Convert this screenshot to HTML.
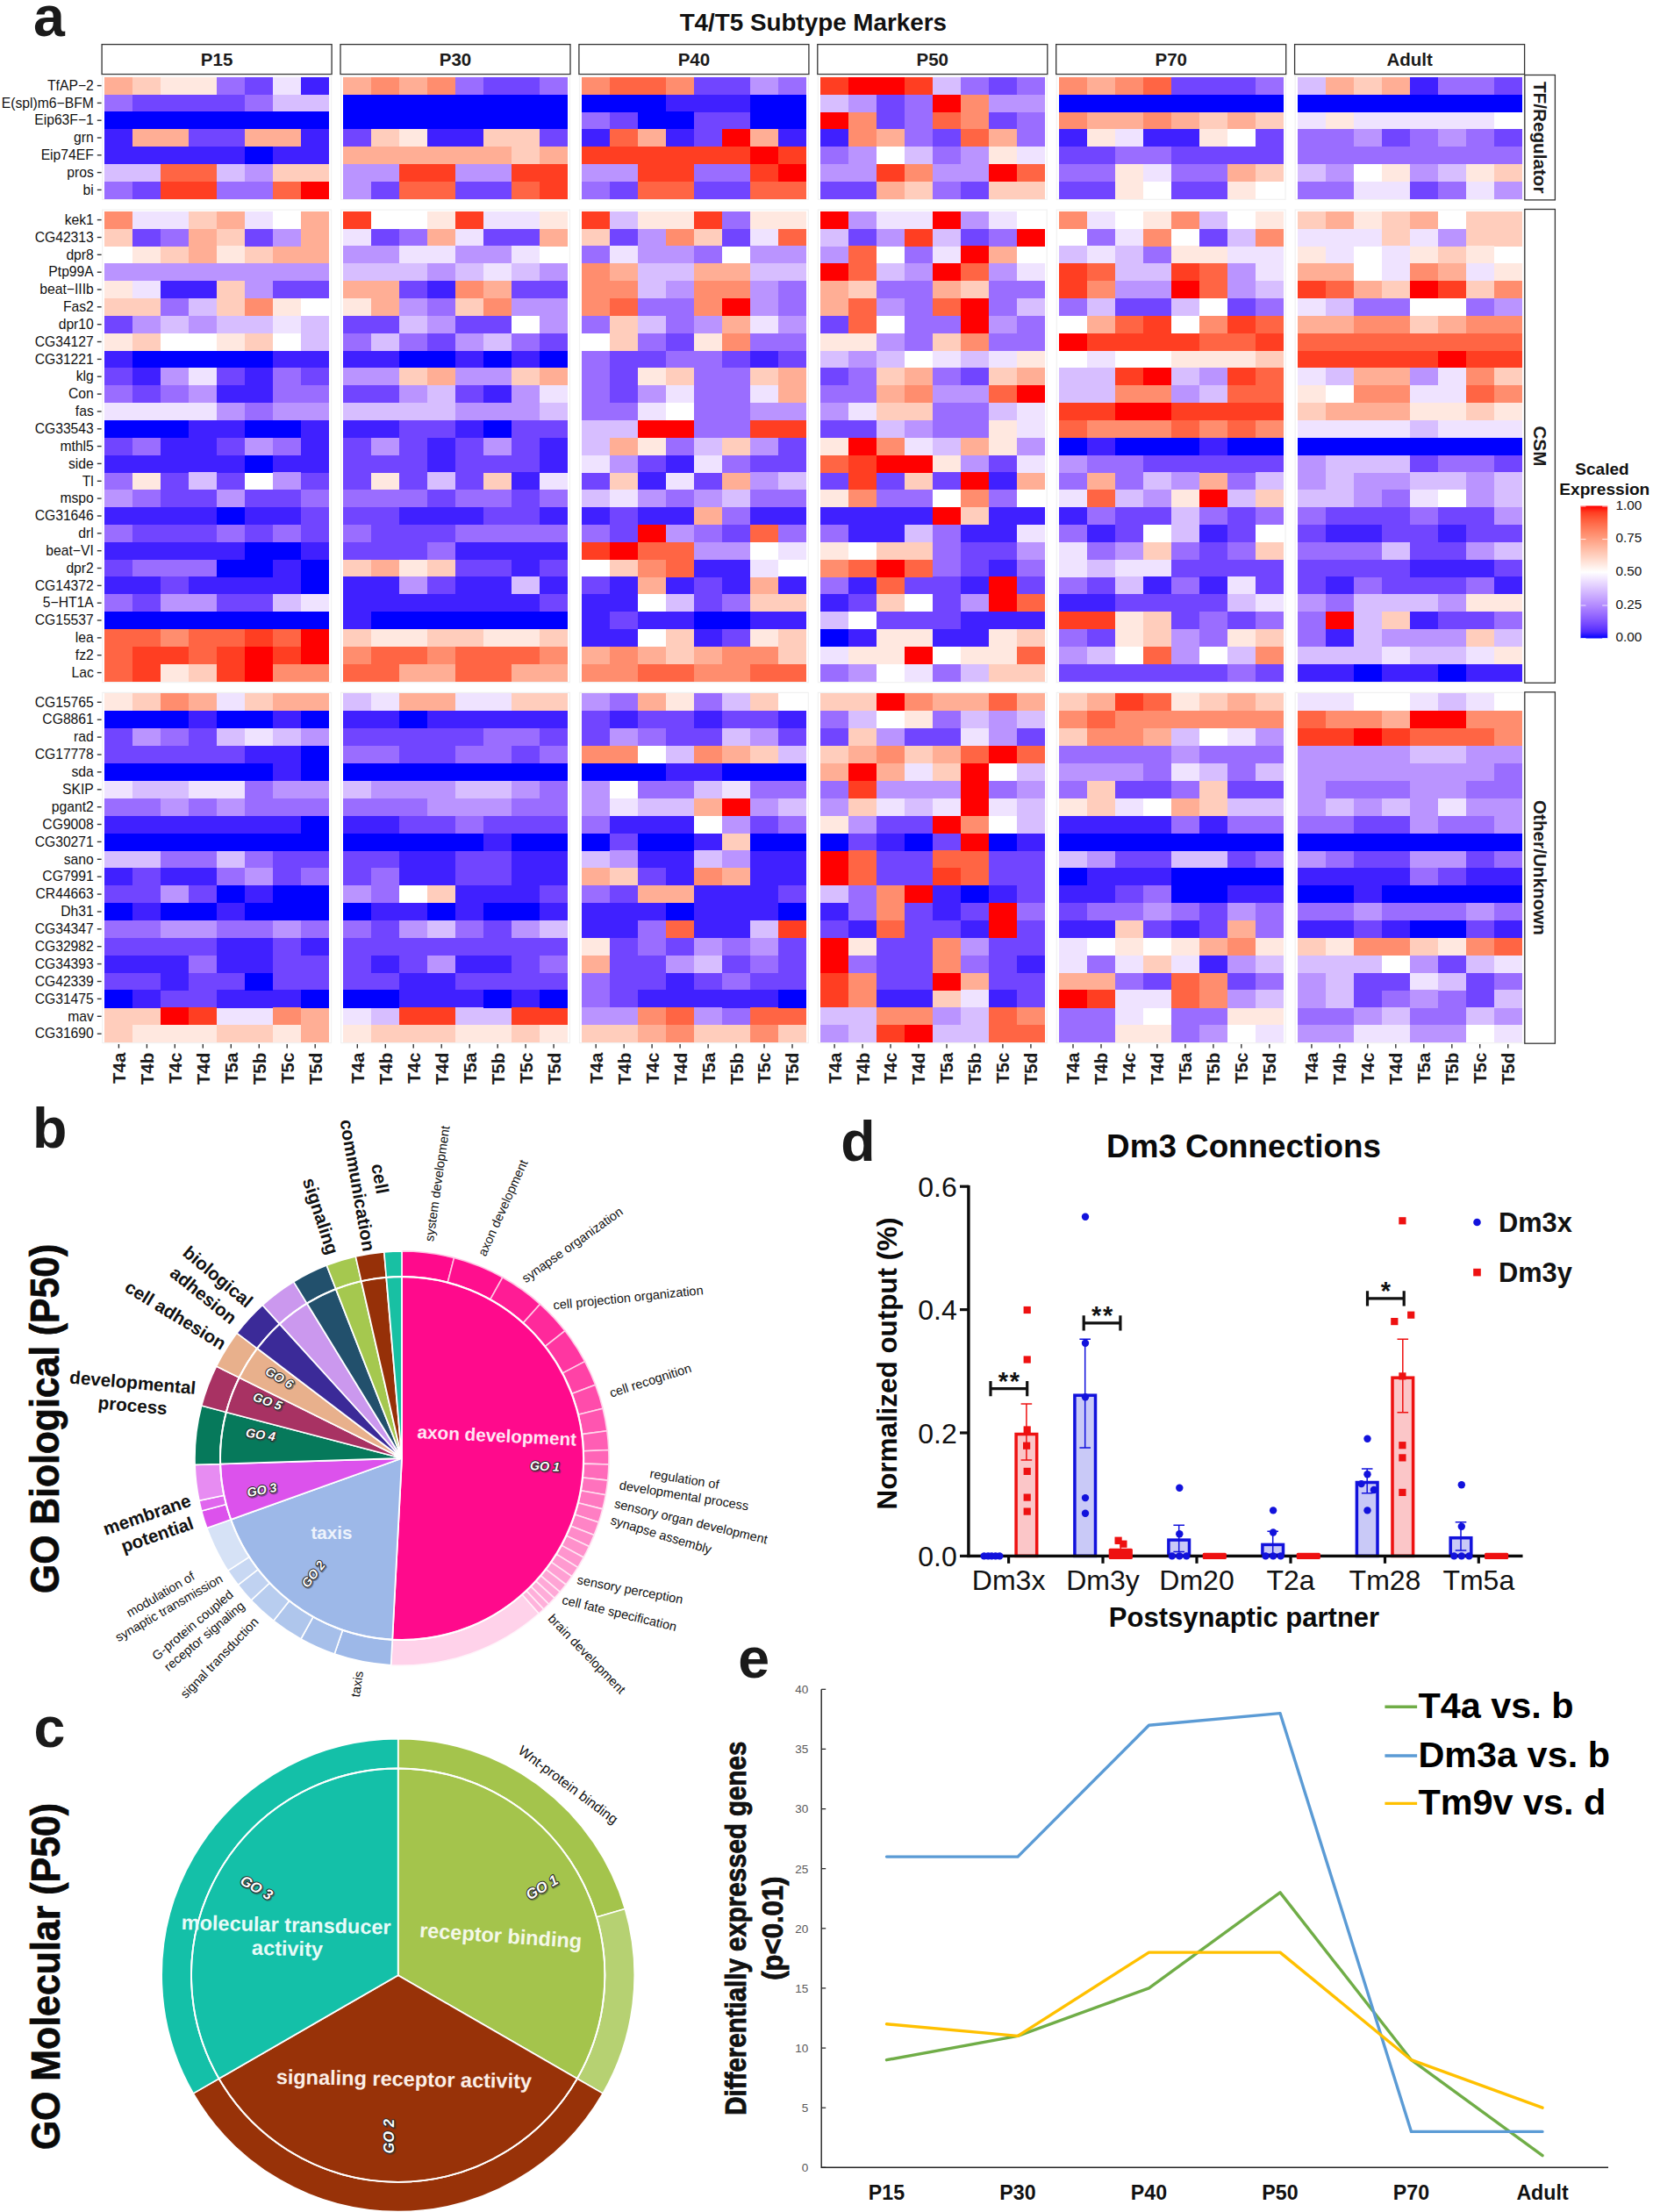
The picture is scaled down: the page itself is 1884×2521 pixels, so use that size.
<!DOCTYPE html>
<html><head><meta charset="utf-8"><title>Figure</title>
<style>
html,body{margin:0;padding:0;background:#fff;}
svg{display:block;font-family:'Liberation Sans', Arial, Helvetica, sans-serif;}
</style></head><body>
<svg width="1884" height="2521" viewBox="0 0 1884 2521" font-family="'Liberation Sans', Arial, Helvetica, sans-serif">
<rect width="1884" height="2521" fill="#fff"/>
<text x="926.8" y="34.6" font-size="27.8" font-weight="bold" text-anchor="middle" fill="#111">T4/T5 Subtype Markers</text>
<rect x="116.1" y="50.6" width="262.0" height="34.0" fill="#fff" stroke="#333" stroke-width="1.3"/>
<text x="247.1" y="75.2" font-size="20.5" font-weight="bold" text-anchor="middle" fill="#1a1a1a">P15</text>
<rect x="388.0" y="50.6" width="262.0" height="34.0" fill="#fff" stroke="#333" stroke-width="1.3"/>
<text x="519.0" y="75.2" font-size="20.5" font-weight="bold" text-anchor="middle" fill="#1a1a1a">P30</text>
<rect x="659.9" y="50.6" width="262.0" height="34.0" fill="#fff" stroke="#333" stroke-width="1.3"/>
<text x="790.9" y="75.2" font-size="20.5" font-weight="bold" text-anchor="middle" fill="#1a1a1a">P40</text>
<rect x="931.8" y="50.6" width="262.0" height="34.0" fill="#fff" stroke="#333" stroke-width="1.3"/>
<text x="1062.8" y="75.2" font-size="20.5" font-weight="bold" text-anchor="middle" fill="#1a1a1a">P50</text>
<rect x="1203.7" y="50.6" width="262.0" height="34.0" fill="#fff" stroke="#333" stroke-width="1.3"/>
<text x="1334.7" y="75.2" font-size="20.5" font-weight="bold" text-anchor="middle" fill="#1a1a1a">P70</text>
<rect x="1475.6" y="50.6" width="262.0" height="34.0" fill="#fff" stroke="#333" stroke-width="1.3"/>
<text x="1606.6" y="75.2" font-size="20.5" font-weight="bold" text-anchor="middle" fill="#1a1a1a">Adult</text>
<rect x="116.7" y="86.1" width="260.8" height="141.2" fill="#fff" stroke="#f1f1f1" stroke-width="1.2"/>
<rect x="388.6" y="86.1" width="260.8" height="141.2" fill="#fff" stroke="#f1f1f1" stroke-width="1.2"/>
<rect x="660.5" y="86.1" width="260.8" height="141.2" fill="#fff" stroke="#f1f1f1" stroke-width="1.2"/>
<rect x="932.4" y="86.1" width="260.8" height="141.2" fill="#fff" stroke="#f1f1f1" stroke-width="1.2"/>
<rect x="1204.3" y="86.1" width="260.8" height="141.2" fill="#fff" stroke="#f1f1f1" stroke-width="1.2"/>
<rect x="1476.2" y="86.1" width="260.8" height="141.2" fill="#fff" stroke="#f1f1f1" stroke-width="1.2"/>
<text x="106.8" y="102.8" font-size="15.7" text-anchor="end" fill="#111">TfAP−2</text>
<rect x="110.8" y="96.9" width="4.8" height="1.4" fill="#333"/>
<text x="106.8" y="122.6" font-size="15.7" text-anchor="end" fill="#111">E(spl)m6−BFM</text>
<rect x="110.8" y="116.7" width="4.8" height="1.4" fill="#333"/>
<text x="106.8" y="142.4" font-size="15.7" text-anchor="end" fill="#111">Eip63F−1</text>
<rect x="110.8" y="136.5" width="4.8" height="1.4" fill="#333"/>
<text x="106.8" y="162.2" font-size="15.7" text-anchor="end" fill="#111">grn</text>
<rect x="110.8" y="156.3" width="4.8" height="1.4" fill="#333"/>
<text x="106.8" y="182.0" font-size="15.7" text-anchor="end" fill="#111">Eip74EF</text>
<rect x="110.8" y="176.1" width="4.8" height="1.4" fill="#333"/>
<text x="106.8" y="201.8" font-size="15.7" text-anchor="end" fill="#111">pros</text>
<rect x="110.8" y="195.9" width="4.8" height="1.4" fill="#333"/>
<text x="106.8" y="221.6" font-size="15.7" text-anchor="end" fill="#111">bi</text>
<rect x="110.8" y="215.7" width="4.8" height="1.4" fill="#333"/>
<rect x="1737.8" y="85.5" width="34.6" height="142.4" fill="#fff" stroke="#333" stroke-width="1.3"/>
<text transform="translate(1748.0,156.7) rotate(90.0)" font-size="20.7" font-weight="bold" text-anchor="middle" fill="#1a1a1a">TF/Regulator</text>
<rect x="116.7" y="239.1" width="260.8" height="538.6" fill="#fff" stroke="#f1f1f1" stroke-width="1.2"/>
<rect x="388.6" y="239.1" width="260.8" height="538.6" fill="#fff" stroke="#f1f1f1" stroke-width="1.2"/>
<rect x="660.5" y="239.1" width="260.8" height="538.6" fill="#fff" stroke="#f1f1f1" stroke-width="1.2"/>
<rect x="932.4" y="239.1" width="260.8" height="538.6" fill="#fff" stroke="#f1f1f1" stroke-width="1.2"/>
<rect x="1204.3" y="239.1" width="260.8" height="538.6" fill="#fff" stroke="#f1f1f1" stroke-width="1.2"/>
<rect x="1476.2" y="239.1" width="260.8" height="538.6" fill="#fff" stroke="#f1f1f1" stroke-width="1.2"/>
<text x="106.8" y="255.8" font-size="15.7" text-anchor="end" fill="#111">kek1</text>
<rect x="110.8" y="249.9" width="4.8" height="1.4" fill="#333"/>
<text x="106.8" y="275.7" font-size="15.7" text-anchor="end" fill="#111">CG42313</text>
<rect x="110.8" y="269.8" width="4.8" height="1.4" fill="#333"/>
<text x="106.8" y="295.5" font-size="15.7" text-anchor="end" fill="#111">dpr8</text>
<rect x="110.8" y="289.6" width="4.8" height="1.4" fill="#333"/>
<text x="106.8" y="315.4" font-size="15.7" text-anchor="end" fill="#111">Ptp99A</text>
<rect x="110.8" y="309.5" width="4.8" height="1.4" fill="#333"/>
<text x="106.8" y="335.2" font-size="15.7" text-anchor="end" fill="#111">beat−IIIb</text>
<rect x="110.8" y="329.3" width="4.8" height="1.4" fill="#333"/>
<text x="106.8" y="355.0" font-size="15.7" text-anchor="end" fill="#111">Fas2</text>
<rect x="110.8" y="349.1" width="4.8" height="1.4" fill="#333"/>
<text x="106.8" y="374.9" font-size="15.7" text-anchor="end" fill="#111">dpr10</text>
<rect x="110.8" y="369.0" width="4.8" height="1.4" fill="#333"/>
<text x="106.8" y="394.7" font-size="15.7" text-anchor="end" fill="#111">CG34127</text>
<rect x="110.8" y="388.8" width="4.8" height="1.4" fill="#333"/>
<text x="106.8" y="414.6" font-size="15.7" text-anchor="end" fill="#111">CG31221</text>
<rect x="110.8" y="408.7" width="4.8" height="1.4" fill="#333"/>
<text x="106.8" y="434.4" font-size="15.7" text-anchor="end" fill="#111">klg</text>
<rect x="110.8" y="428.5" width="4.8" height="1.4" fill="#333"/>
<text x="106.8" y="454.3" font-size="15.7" text-anchor="end" fill="#111">Con</text>
<rect x="110.8" y="448.4" width="4.8" height="1.4" fill="#333"/>
<text x="106.8" y="474.1" font-size="15.7" text-anchor="end" fill="#111">fas</text>
<rect x="110.8" y="468.2" width="4.8" height="1.4" fill="#333"/>
<text x="106.8" y="494.0" font-size="15.7" text-anchor="end" fill="#111">CG33543</text>
<rect x="110.8" y="488.1" width="4.8" height="1.4" fill="#333"/>
<text x="106.8" y="513.8" font-size="15.7" text-anchor="end" fill="#111">mthl5</text>
<rect x="110.8" y="507.9" width="4.8" height="1.4" fill="#333"/>
<text x="106.8" y="533.6" font-size="15.7" text-anchor="end" fill="#111">side</text>
<rect x="110.8" y="527.7" width="4.8" height="1.4" fill="#333"/>
<text x="106.8" y="553.5" font-size="15.7" text-anchor="end" fill="#111">Tl</text>
<rect x="110.8" y="547.6" width="4.8" height="1.4" fill="#333"/>
<text x="106.8" y="573.3" font-size="15.7" text-anchor="end" fill="#111">mspo</text>
<rect x="110.8" y="567.4" width="4.8" height="1.4" fill="#333"/>
<text x="106.8" y="593.2" font-size="15.7" text-anchor="end" fill="#111">CG31646</text>
<rect x="110.8" y="587.3" width="4.8" height="1.4" fill="#333"/>
<text x="106.8" y="613.0" font-size="15.7" text-anchor="end" fill="#111">drl</text>
<rect x="110.8" y="607.1" width="4.8" height="1.4" fill="#333"/>
<text x="106.8" y="632.9" font-size="15.7" text-anchor="end" fill="#111">beat−VI</text>
<rect x="110.8" y="627.0" width="4.8" height="1.4" fill="#333"/>
<text x="106.8" y="652.7" font-size="15.7" text-anchor="end" fill="#111">dpr2</text>
<rect x="110.8" y="646.8" width="4.8" height="1.4" fill="#333"/>
<text x="106.8" y="672.6" font-size="15.7" text-anchor="end" fill="#111">CG14372</text>
<rect x="110.8" y="666.7" width="4.8" height="1.4" fill="#333"/>
<text x="106.8" y="692.4" font-size="15.7" text-anchor="end" fill="#111">5−HT1A</text>
<rect x="110.8" y="686.5" width="4.8" height="1.4" fill="#333"/>
<text x="106.8" y="712.2" font-size="15.7" text-anchor="end" fill="#111">CG15537</text>
<rect x="110.8" y="706.3" width="4.8" height="1.4" fill="#333"/>
<text x="106.8" y="732.1" font-size="15.7" text-anchor="end" fill="#111">lea</text>
<rect x="110.8" y="726.2" width="4.8" height="1.4" fill="#333"/>
<text x="106.8" y="751.9" font-size="15.7" text-anchor="end" fill="#111">fz2</text>
<rect x="110.8" y="746.0" width="4.8" height="1.4" fill="#333"/>
<text x="106.8" y="771.8" font-size="15.7" text-anchor="end" fill="#111">Lac</text>
<rect x="110.8" y="765.9" width="4.8" height="1.4" fill="#333"/>
<rect x="1737.8" y="238.5" width="34.6" height="539.8" fill="#fff" stroke="#333" stroke-width="1.3"/>
<text transform="translate(1748.0,508.4) rotate(90.0)" font-size="20.7" font-weight="bold" text-anchor="middle" fill="#1a1a1a">CSM</text>
<rect x="116.7" y="789.4" width="260.8" height="399.2" fill="#fff" stroke="#f1f1f1" stroke-width="1.2"/>
<rect x="388.6" y="789.4" width="260.8" height="399.2" fill="#fff" stroke="#f1f1f1" stroke-width="1.2"/>
<rect x="660.5" y="789.4" width="260.8" height="399.2" fill="#fff" stroke="#f1f1f1" stroke-width="1.2"/>
<rect x="932.4" y="789.4" width="260.8" height="399.2" fill="#fff" stroke="#f1f1f1" stroke-width="1.2"/>
<rect x="1204.3" y="789.4" width="260.8" height="399.2" fill="#fff" stroke="#f1f1f1" stroke-width="1.2"/>
<rect x="1476.2" y="789.4" width="260.8" height="399.2" fill="#fff" stroke="#f1f1f1" stroke-width="1.2"/>
<text x="106.8" y="805.5" font-size="15.7" text-anchor="end" fill="#111">CG15765</text>
<rect x="110.8" y="799.6" width="4.8" height="1.4" fill="#333"/>
<text x="106.8" y="825.4" font-size="15.7" text-anchor="end" fill="#111">CG8861</text>
<rect x="110.8" y="819.5" width="4.8" height="1.4" fill="#333"/>
<text x="106.8" y="845.3" font-size="15.7" text-anchor="end" fill="#111">rad</text>
<rect x="110.8" y="839.4" width="4.8" height="1.4" fill="#333"/>
<text x="106.8" y="865.2" font-size="15.7" text-anchor="end" fill="#111">CG17778</text>
<rect x="110.8" y="859.3" width="4.8" height="1.4" fill="#333"/>
<text x="106.8" y="885.1" font-size="15.7" text-anchor="end" fill="#111">sda</text>
<rect x="110.8" y="879.2" width="4.8" height="1.4" fill="#333"/>
<text x="106.8" y="905.0" font-size="15.7" text-anchor="end" fill="#111">SKIP</text>
<rect x="110.8" y="899.1" width="4.8" height="1.4" fill="#333"/>
<text x="106.8" y="924.9" font-size="15.7" text-anchor="end" fill="#111">pgant2</text>
<rect x="110.8" y="919.0" width="4.8" height="1.4" fill="#333"/>
<text x="106.8" y="944.7" font-size="15.7" text-anchor="end" fill="#111">CG9008</text>
<rect x="110.8" y="938.8" width="4.8" height="1.4" fill="#333"/>
<text x="106.8" y="964.6" font-size="15.7" text-anchor="end" fill="#111">CG30271</text>
<rect x="110.8" y="958.7" width="4.8" height="1.4" fill="#333"/>
<text x="106.8" y="984.5" font-size="15.7" text-anchor="end" fill="#111">sano</text>
<rect x="110.8" y="978.6" width="4.8" height="1.4" fill="#333"/>
<text x="106.8" y="1004.4" font-size="15.7" text-anchor="end" fill="#111">CG7991</text>
<rect x="110.8" y="998.5" width="4.8" height="1.4" fill="#333"/>
<text x="106.8" y="1024.3" font-size="15.7" text-anchor="end" fill="#111">CR44663</text>
<rect x="110.8" y="1018.4" width="4.8" height="1.4" fill="#333"/>
<text x="106.8" y="1044.2" font-size="15.7" text-anchor="end" fill="#111">Dh31</text>
<rect x="110.8" y="1038.3" width="4.8" height="1.4" fill="#333"/>
<text x="106.8" y="1064.0" font-size="15.7" text-anchor="end" fill="#111">CG34347</text>
<rect x="110.8" y="1058.1" width="4.8" height="1.4" fill="#333"/>
<text x="106.8" y="1083.9" font-size="15.7" text-anchor="end" fill="#111">CG32982</text>
<rect x="110.8" y="1078.0" width="4.8" height="1.4" fill="#333"/>
<text x="106.8" y="1103.8" font-size="15.7" text-anchor="end" fill="#111">CG34393</text>
<rect x="110.8" y="1097.9" width="4.8" height="1.4" fill="#333"/>
<text x="106.8" y="1123.7" font-size="15.7" text-anchor="end" fill="#111">CG42339</text>
<rect x="110.8" y="1117.8" width="4.8" height="1.4" fill="#333"/>
<text x="106.8" y="1143.6" font-size="15.7" text-anchor="end" fill="#111">CG31475</text>
<rect x="110.8" y="1137.7" width="4.8" height="1.4" fill="#333"/>
<text x="106.8" y="1163.5" font-size="15.7" text-anchor="end" fill="#111">mav</text>
<rect x="110.8" y="1157.6" width="4.8" height="1.4" fill="#333"/>
<text x="106.8" y="1183.4" font-size="15.7" text-anchor="end" fill="#111">CG31690</text>
<rect x="110.8" y="1177.5" width="4.8" height="1.4" fill="#333"/>
<rect x="1737.8" y="788.8" width="34.6" height="400.4" fill="#fff" stroke="#333" stroke-width="1.3"/>
<text transform="translate(1748.0,989.0) rotate(90.0)" font-size="20.7" font-weight="bold" text-anchor="middle" fill="#1a1a1a">Other/Unknown</text>
<path fill="#ffae95" shape-rendering="crispEdges" d="M119.4 87.7H151.4V107.7H119.4zM391.3 87.7H423.3V107.7H391.3zM455.2 87.7H487.2V107.7H455.2zM1239.0 87.7H1270.9V107.7H1239.0zM1510.9 87.7H1542.8V107.7H1510.9zM1574.8 87.7H1606.8V107.7H1574.8zM1239.0 127.3H1302.9V147.3H1239.0zM1334.9 127.3H1366.9V147.3H1334.9zM1398.8 127.3H1430.8V147.3H1398.8zM151.4 147.1H215.3V167.1H151.4zM279.3 147.1H343.2V167.1H279.3zM727.1 147.1H759.1V167.1H727.1zM855.0 147.1H887.0V167.1H855.0zM999.0 147.1H1031.0V167.1H999.0zM1126.9 147.1H1158.9V167.1H1126.9zM391.3 166.9H583.2V186.9H391.3zM615.1 166.9H647.1V186.9H615.1zM1398.8 186.7H1430.8V206.7H1398.8zM999.0 206.5H1031.0V226.5H999.0zM247.3 240.7H279.3V260.7H247.3zM343.2 240.7H375.2V260.7H343.2zM1510.9 240.7H1542.8V260.7H1510.9zM1606.8 240.7H1638.8V260.7H1606.8zM215.3 260.5H247.3V280.5H215.3zM343.2 260.5H375.2V280.5H343.2zM487.2 260.5H519.2V280.5H487.2zM615.1 260.5H647.1V280.5H615.1zM215.3 280.4H247.3V300.4H215.3zM311.2 280.4H375.2V300.4H311.2zM1126.9 280.4H1158.9V300.4H1126.9zM695.2 300.2H727.1V320.2H695.2zM791.1 300.2H855.0V320.2H791.1zM1478.9 300.2H1542.8V320.2H1478.9zM1638.8 300.2H1670.8V320.2H1638.8zM391.3 320.1H455.2V340.1H391.3zM551.2 320.1H583.2V340.1H551.2zM935.1 320.1H967.1V340.1H935.1zM1063.0 320.1H1095.0V340.1H1063.0zM1542.8 320.1H1574.8V340.1H1542.8zM423.3 339.9H455.2V359.9H423.3zM935.1 339.9H967.1V359.9H935.1zM823.1 359.8H855.0V379.8H823.1zM1239.0 359.8H1270.9V379.8H1239.0zM1478.9 359.8H1542.8V379.8H1478.9zM1638.8 359.8H1670.8V379.8H1638.8zM487.2 419.3H519.2V439.3H487.2zM615.1 419.3H647.1V439.3H615.1zM887.0 419.3H919.0V439.3H887.0zM1031.0 419.3H1063.0V439.3H1031.0zM1158.9 419.3H1190.9V439.3H1158.9zM1542.8 419.3H1606.8V439.3H1542.8zM887.0 439.1H919.0V459.1H887.0zM999.0 439.1H1031.0V459.1H999.0zM1510.9 459.0H1606.8V479.0H1510.9zM695.2 498.7H727.1V518.7H695.2zM1095.0 498.7H1126.9V518.7H1095.0zM823.1 538.4H855.0V558.4H823.1zM1158.9 538.4H1190.9V558.4H1158.9zM1239.0 538.4H1270.9V558.4H1239.0zM1366.9 538.4H1398.8V558.4H1366.9zM791.1 578.1H823.1V598.0H791.1zM423.3 637.6H455.2V657.6H423.3zM727.1 657.4H759.1V677.4H727.1zM855.0 657.4H887.0V677.4H855.0zM663.2 736.8H695.2V756.8H663.2zM727.1 736.8H759.1V756.8H727.1zM791.1 736.8H823.1V756.8H791.1zM455.2 756.7H519.2V776.6H455.2zM583.2 756.7H647.1V776.6H583.2zM215.3 790.4H247.3V810.4H215.3zM311.2 790.4H375.2V810.4H311.2zM455.2 790.4H519.2V810.4H455.2zM727.1 790.4H759.1V810.4H727.1zM1063.0 790.4H1126.9V810.4H1063.0zM1158.9 790.4H1190.9V810.4H1158.9zM1239.0 790.4H1270.9V810.4H1239.0zM1398.8 790.4H1430.8V810.4H1398.8zM1574.8 810.3H1606.8V830.3H1574.8zM1302.9 830.2H1334.9V850.2H1302.9zM823.1 850.1H855.0V870.1H823.1zM967.1 850.1H999.0V870.1H967.1zM1063.0 850.1H1095.0V870.1H1063.0zM935.1 869.9H967.1V890.0H935.1zM999.0 869.9H1031.0V890.0H999.0zM791.1 909.7H823.1V929.7H791.1zM1334.9 909.7H1366.9V929.7H1334.9zM663.2 989.2H695.2V1009.3H663.2zM823.1 989.2H855.0V1009.3H823.1zM727.1 1009.1H791.1V1029.2H727.1zM1398.8 1048.9H1430.8V1068.9H1398.8zM1366.9 1068.8H1398.8V1088.8H1366.9zM663.2 1088.7H695.2V1108.7H663.2zM1095.0 1108.6H1126.9V1128.6H1095.0zM1207.0 1108.6H1270.9V1128.6H1207.0zM343.2 1148.3H375.2V1168.4H343.2zM343.2 1168.2H375.2V1188.2H343.2zM727.1 1168.2H759.1V1188.2H727.1z"/>
<path fill="#ffcdbc" shape-rendering="crispEdges" d="M151.4 87.7H183.3V107.7H151.4zM1542.8 87.7H1574.8V107.7H1542.8zM1366.9 127.3H1398.8V147.3H1366.9zM1430.8 127.3H1462.8V147.3H1430.8zM423.3 147.1H455.2V167.1H423.3zM551.2 147.1H615.1V167.1H551.2zM583.2 166.9H615.1V186.9H583.2zM311.2 186.7H375.2V206.7H311.2zM1430.8 186.7H1462.8V206.7H1430.8zM1702.7 186.7H1734.7V206.7H1702.7zM1031.0 206.5H1063.0V226.5H1031.0zM1126.9 206.5H1190.9V226.5H1126.9zM215.3 240.7H247.3V260.7H215.3zM1478.9 240.7H1510.9V260.7H1478.9zM1574.8 240.7H1606.8V260.7H1574.8zM1670.8 240.7H1734.7V260.7H1670.8zM119.4 260.5H151.4V280.5H119.4zM247.3 260.5H279.3V280.5H247.3zM663.2 260.5H695.2V280.5H663.2zM791.1 260.5H823.1V280.5H791.1zM1574.8 260.5H1606.8V280.5H1574.8zM1670.8 260.5H1734.7V280.5H1670.8zM183.3 280.4H215.3V300.4H183.3zM279.3 280.4H311.2V300.4H279.3zM1638.8 280.4H1670.8V300.4H1638.8zM247.3 320.1H279.3V340.1H247.3zM967.1 320.1H999.0V340.1H967.1zM1095.0 320.1H1126.9V340.1H1095.0zM1574.8 320.1H1606.8V340.1H1574.8zM1670.8 320.1H1702.7V340.1H1670.8zM119.4 339.9H183.3V359.9H119.4zM247.3 339.9H279.3V359.9H247.3zM519.2 339.9H551.2V359.9H519.2zM695.2 359.8H727.1V379.8H695.2zM1606.8 359.8H1638.8V379.8H1606.8zM151.4 379.6H183.3V399.6H151.4zM279.3 379.6H311.2V399.6H279.3zM695.2 379.6H727.1V399.6H695.2zM1063.0 379.6H1095.0V399.6H1063.0zM1430.8 399.5H1462.8V419.4H1430.8zM455.2 419.3H487.2V439.3H455.2zM583.2 419.3H615.1V439.3H583.2zM759.1 419.3H791.1V439.3H759.1zM855.0 419.3H887.0V439.3H855.0zM999.0 419.3H1031.0V439.3H999.0zM1126.9 419.3H1158.9V439.3H1126.9zM1702.7 419.3H1734.7V439.3H1702.7zM999.0 459.0H1063.0V479.0H999.0zM1478.9 459.0H1510.9V479.0H1478.9zM1670.8 459.0H1702.7V479.0H1670.8zM823.1 498.7H855.0V518.7H823.1zM551.2 538.4H583.2V558.4H551.2zM695.2 538.4H727.1V558.4H695.2zM1031.0 538.4H1063.0V558.4H1031.0zM1430.8 558.2H1462.8V578.2H1430.8zM1095.0 578.1H1126.9V598.0H1095.0zM999.0 617.7H1063.0V637.7H999.0zM1302.9 617.7H1334.9V637.7H1302.9zM1430.8 617.7H1462.8V637.7H1430.8zM391.3 637.6H423.3V657.6H391.3zM487.2 637.6H519.2V657.6H487.2zM695.2 637.6H727.1V657.6H695.2zM855.0 677.3H919.0V697.3H855.0zM999.0 677.3H1031.0V697.3H999.0zM1302.9 697.1H1334.9V717.1H1302.9zM1574.8 697.1H1606.8V717.1H1574.8zM391.3 717.0H423.3V737.0H391.3zM487.2 717.0H551.2V737.0H487.2zM615.1 717.0H647.1V737.0H615.1zM759.1 717.0H791.1V737.0H759.1zM887.0 717.0H919.0V737.0H887.0zM1158.9 717.0H1190.9V737.0H1158.9zM1302.9 717.0H1334.9V737.0H1302.9zM1430.8 717.0H1462.8V737.0H1430.8zM1670.8 717.0H1702.7V737.0H1670.8zM759.1 736.8H791.1V756.8H759.1zM887.0 736.8H919.0V756.8H887.0zM215.3 756.7H247.3V776.6H215.3zM1126.9 756.7H1190.9V776.6H1126.9zM151.4 790.4H183.3V810.4H151.4zM279.3 790.4H311.2V810.4H279.3zM583.2 790.4H647.1V810.4H583.2zM855.0 790.4H887.0V810.4H855.0zM935.1 790.4H999.0V810.4H935.1zM1207.0 790.4H1239.0V810.4H1207.0zM1366.9 790.4H1398.8V810.4H1366.9zM1430.8 790.4H1462.8V810.4H1430.8zM967.1 830.2H999.0V850.2H967.1zM1207.0 830.2H1239.0V850.2H1207.0zM855.0 850.1H887.0V870.1H855.0zM935.1 850.1H967.1V870.1H935.1zM1031.0 850.1H1063.0V870.1H1031.0zM1063.0 869.9H1095.0V890.0H1063.0zM1239.0 889.8H1270.9V909.9H1239.0zM1366.9 889.8H1398.8V909.9H1366.9zM967.1 909.7H999.0V929.7H967.1zM1239.0 909.7H1270.9V929.7H1239.0zM1366.9 909.7H1398.8V929.7H1366.9zM823.1 949.5H855.0V969.5H823.1zM695.2 989.2H727.1V1009.3H695.2zM487.2 1009.1H519.2V1029.2H487.2zM1270.9 1048.9H1302.9V1068.9H1270.9zM1478.9 1068.8H1510.9V1088.8H1478.9zM1606.8 1068.8H1638.8V1088.8H1606.8zM1302.9 1088.7H1334.9V1108.7H1302.9zM1063.0 1128.4H1095.0V1148.5H1063.0zM119.4 1148.3H183.3V1168.4H119.4zM119.4 1168.2H151.4V1188.2H119.4zM247.3 1168.2H311.2V1188.2H247.3zM423.3 1168.2H519.2V1188.2H423.3zM583.2 1168.2H615.1V1188.2H583.2zM663.2 1168.2H727.1V1188.2H663.2zM791.1 1168.2H855.0V1188.2H791.1zM887.0 1168.2H919.0V1188.2H887.0z"/>
<path fill="#ffe8e0" shape-rendering="crispEdges" d="M183.3 87.7H247.3V107.7H183.3zM1510.9 127.3H1542.8V147.3H1510.9zM455.2 147.1H487.2V167.1H455.2zM1239.0 147.1H1270.9V167.1H1239.0zM1366.9 147.1H1398.8V167.1H1366.9zM1126.9 166.9H1158.9V186.9H1126.9zM1270.9 186.7H1302.9V206.7H1270.9zM1574.8 186.7H1606.8V206.7H1574.8zM1670.8 186.7H1702.7V206.7H1670.8zM1270.9 206.5H1302.9V226.5H1270.9zM1398.8 206.5H1430.8V226.5H1398.8zM487.2 240.7H519.2V260.7H487.2zM615.1 240.7H647.1V260.7H615.1zM727.1 240.7H791.1V260.7H727.1zM855.0 240.7H919.0V260.7H855.0zM1302.9 240.7H1334.9V260.7H1302.9zM1430.8 240.7H1462.8V260.7H1430.8zM1542.8 240.7H1574.8V260.7H1542.8zM151.4 280.4H183.3V300.4H151.4zM247.3 280.4H279.3V300.4H247.3zM1334.9 280.4H1398.8V300.4H1334.9zM1478.9 280.4H1510.9V300.4H1478.9zM1606.8 280.4H1638.8V300.4H1606.8zM1670.8 280.4H1702.7V300.4H1670.8zM1702.7 300.2H1734.7V320.2H1702.7zM119.4 320.1H151.4V340.1H119.4zM311.2 339.9H343.2V359.9H311.2zM391.3 339.9H423.3V359.9H391.3zM119.4 379.6H151.4V399.6H119.4zM247.3 379.6H279.3V399.6H247.3zM791.1 379.6H823.1V399.6H791.1zM935.1 379.6H999.0V399.6H935.1zM1158.9 399.5H1190.9V419.4H1158.9zM1334.9 399.5H1430.8V419.4H1334.9zM727.1 419.3H759.1V439.3H727.1zM1478.9 439.1H1510.9V459.1H1478.9zM1606.8 459.0H1670.8V479.0H1606.8zM1702.7 459.0H1734.7V479.0H1702.7zM1126.9 478.8H1158.9V498.8H1126.9zM727.1 498.7H759.1V518.7H727.1zM935.1 498.7H967.1V518.7H935.1zM1126.9 498.7H1158.9V518.7H1126.9zM1063.0 518.5H1095.0V538.5H1063.0zM151.4 538.4H183.3V558.4H151.4zM423.3 538.4H455.2V558.4H423.3zM935.1 558.2H967.1V578.2H935.1zM1334.9 558.2H1366.9V578.2H1334.9zM935.1 617.7H967.1V637.7H935.1zM455.2 637.6H487.2V657.6H455.2zM1670.8 677.3H1734.7V697.3H1670.8zM1270.9 697.1H1302.9V717.1H1270.9zM423.3 717.0H487.2V737.0H423.3zM551.2 717.0H615.1V737.0H551.2zM855.0 717.0H887.0V737.0H855.0zM999.0 717.0H1063.0V737.0H999.0zM1126.9 717.0H1158.9V737.0H1126.9zM1270.9 717.0H1302.9V737.0H1270.9zM1398.8 717.0H1430.8V737.0H1398.8zM967.1 736.8H1031.0V756.8H967.1zM1095.0 736.8H1158.9V756.8H1095.0zM1702.7 736.8H1734.7V756.8H1702.7zM183.3 756.7H215.3V776.6H183.3zM119.4 790.4H151.4V810.4H119.4zM759.1 790.4H791.1V810.4H759.1zM1334.9 790.4H1366.9V810.4H1334.9zM1031.0 810.3H1063.0V830.3H1031.0zM1207.0 909.7H1239.0V929.7H1207.0zM935.1 929.6H967.1V949.6H935.1zM663.2 1068.8H695.2V1088.8H663.2zM967.1 1068.8H999.0V1088.8H967.1zM1270.9 1068.8H1302.9V1088.8H1270.9zM1334.9 1068.8H1366.9V1088.8H1334.9zM1430.8 1068.8H1462.8V1088.8H1430.8zM1510.9 1068.8H1542.8V1088.8H1510.9zM1638.8 1068.8H1670.8V1088.8H1638.8zM1398.8 1148.3H1462.8V1168.4H1398.8zM151.4 1168.2H247.3V1188.2H151.4zM311.2 1168.2H343.2V1188.2H311.2zM391.3 1168.2H423.3V1188.2H391.3zM519.2 1168.2H583.2V1188.2H519.2zM615.1 1168.2H647.1V1188.2H615.1zM1270.9 1168.2H1334.9V1188.2H1270.9z"/>
<path fill="#9a6dff" shape-rendering="crispEdges" d="M247.3 87.7H279.3V107.7H247.3zM519.2 87.7H551.2V107.7H519.2zM615.1 87.7H647.1V107.7H615.1zM887.0 87.7H919.0V107.7H887.0zM1095.0 87.7H1126.9V107.7H1095.0zM1158.9 87.7H1190.9V107.7H1158.9zM1430.8 87.7H1462.8V107.7H1430.8zM1638.8 87.7H1702.7V107.7H1638.8zM119.4 107.5H151.4V127.5H119.4zM279.3 107.5H311.2V127.5H279.3zM1031.0 107.5H1063.0V127.5H1031.0zM663.2 127.3H695.2V147.3H663.2zM1031.0 127.3H1063.0V147.3H1031.0zM1158.9 127.3H1190.9V147.3H1158.9zM1031.0 147.1H1063.0V167.1H1031.0zM1158.9 147.1H1190.9V167.1H1158.9zM1478.9 147.1H1542.8V167.1H1478.9zM1606.8 147.1H1638.8V167.1H1606.8zM1670.8 147.1H1702.7V167.1H1670.8zM935.1 166.9H967.1V186.9H935.1zM1063.0 166.9H1095.0V186.9H1063.0zM1270.9 166.9H1334.9V186.9H1270.9zM1478.9 166.9H1734.7V186.9H1478.9zM791.1 186.7H855.0V206.7H791.1zM1207.0 186.7H1270.9V206.7H1207.0zM1334.9 186.7H1398.8V206.7H1334.9zM119.4 206.5H151.4V226.5H119.4zM247.3 206.5H311.2V226.5H247.3zM663.2 206.5H695.2V226.5H663.2zM1063.0 206.5H1095.0V226.5H1063.0zM1478.9 206.5H1542.8V226.5H1478.9zM1638.8 206.5H1670.8V226.5H1638.8zM823.1 240.7H855.0V260.7H823.1zM183.3 260.5H215.3V280.5H183.3zM455.2 260.5H487.2V280.5H455.2zM1126.9 260.5H1158.9V280.5H1126.9zM1239.0 260.5H1270.9V280.5H1239.0zM663.2 280.4H695.2V300.4H663.2zM791.1 280.4H823.1V300.4H791.1zM1031.0 280.4H1063.0V300.4H1031.0zM1302.9 280.4H1334.9V300.4H1302.9zM887.0 320.1H919.0V340.1H887.0zM999.0 320.1H1063.0V340.1H999.0zM1126.9 320.1H1190.9V340.1H1126.9zM183.3 339.9H215.3V359.9H183.3zM487.2 339.9H519.2V359.9H487.2zM727.1 339.9H791.1V359.9H727.1zM887.0 339.9H919.0V359.9H887.0zM1031.0 339.9H1063.0V359.9H1031.0zM1126.9 339.9H1158.9V359.9H1126.9zM1207.0 339.9H1239.0V359.9H1207.0zM1430.8 339.9H1462.8V359.9H1430.8zM1542.8 339.9H1606.8V359.9H1542.8zM1670.8 339.9H1702.7V359.9H1670.8zM663.2 359.8H695.2V379.8H663.2zM759.1 359.8H791.1V379.8H759.1zM1031.0 359.8H1095.0V379.8H1031.0zM1158.9 359.8H1190.9V379.8H1158.9zM391.3 379.6H423.3V399.6H391.3zM455.2 379.6H487.2V399.6H455.2zM583.2 379.6H615.1V399.6H583.2zM727.1 379.6H759.1V399.6H727.1zM855.0 379.6H919.0V399.6H855.0zM1031.0 379.6H1063.0V399.6H1031.0zM1126.9 379.6H1190.9V399.6H1126.9zM663.2 399.5H695.2V419.4H663.2zM759.1 399.5H823.1V419.4H759.1zM311.2 419.3H343.2V439.3H311.2zM663.2 419.3H695.2V439.3H663.2zM791.1 419.3H855.0V439.3H791.1zM967.1 419.3H999.0V439.3H967.1zM1063.0 419.3H1095.0V439.3H1063.0zM119.4 439.1H151.4V459.1H119.4zM183.3 439.1H215.3V459.1H183.3zM311.2 439.1H375.2V459.1H311.2zM663.2 439.1H695.2V459.1H663.2zM791.1 439.1H855.0V459.1H791.1zM935.1 439.1H999.0V459.1H935.1zM279.3 459.0H311.2V479.0H279.3zM663.2 459.0H727.1V479.0H663.2zM791.1 459.0H855.0V479.0H791.1zM1063.0 459.0H1126.9V479.0H1063.0zM791.1 478.8H855.0V498.8H791.1zM1063.0 478.8H1126.9V498.8H1063.0zM151.4 498.7H183.3V518.7H151.4zM311.2 498.7H343.2V518.7H311.2zM759.1 498.7H791.1V518.7H759.1zM823.1 518.5H855.0V538.5H823.1zM1239.0 518.5H1302.9V538.5H1239.0zM1638.8 518.5H1702.7V538.5H1638.8zM119.4 538.4H151.4V558.4H119.4zM1207.0 538.4H1239.0V558.4H1207.0zM1270.9 538.4H1302.9V558.4H1270.9zM1398.8 538.4H1430.8V558.4H1398.8zM151.4 558.2H183.3V578.2H151.4zM343.2 558.2H375.2V578.2H343.2zM391.3 558.2H487.2V578.2H391.3zM519.2 558.2H583.2V578.2H519.2zM615.1 558.2H647.1V578.2H615.1zM759.1 558.2H791.1V578.2H759.1zM855.0 558.2H919.0V578.2H855.0zM999.0 558.2H1063.0V578.2H999.0zM1126.9 558.2H1158.9V578.2H1126.9zM1574.8 558.2H1606.8V578.2H1574.8zM823.1 578.1H855.0V598.0H823.1zM1239.0 578.1H1270.9V598.0H1239.0zM1366.9 578.1H1398.8V598.0H1366.9zM1430.8 578.1H1462.8V598.0H1430.8zM1478.9 578.1H1510.9V598.0H1478.9zM1606.8 578.1H1638.8V598.0H1606.8zM119.4 597.9H151.4V617.9H119.4zM247.3 597.9H279.3V617.9H247.3zM311.2 597.9H343.2V617.9H311.2zM391.3 597.9H423.3V617.9H391.3zM519.2 597.9H647.1V617.9H519.2zM663.2 597.9H695.2V617.9H663.2zM791.1 597.9H823.1V617.9H791.1zM887.0 597.9H919.0V617.9H887.0zM935.1 597.9H967.1V617.9H935.1zM1063.0 597.9H1095.0V617.9H1063.0zM1207.0 597.9H1239.0V617.9H1207.0zM487.2 617.7H519.2V637.7H487.2zM1063.0 617.7H1095.0V637.7H1063.0zM1239.0 617.7H1270.9V637.7H1239.0zM1334.9 617.7H1366.9V637.7H1334.9zM1398.8 617.7H1430.8V637.7H1398.8zM1478.9 617.7H1574.8V637.7H1478.9zM151.4 637.6H247.3V657.6H151.4zM1063.0 637.6H1095.0V657.6H1063.0zM1158.9 637.6H1190.9V657.6H1158.9zM935.1 657.4H967.1V677.4H935.1zM1207.0 657.4H1239.0V677.4H1207.0zM1334.9 657.4H1366.9V677.4H1334.9zM1542.8 657.4H1574.8V677.4H1542.8zM1670.8 657.4H1702.7V677.4H1670.8zM119.4 677.3H151.4V697.3H119.4zM823.1 677.3H855.0V697.3H823.1zM1510.9 677.3H1542.8V697.3H1510.9zM1366.9 697.1H1398.8V717.1H1366.9zM1430.8 697.1H1462.8V717.1H1430.8zM1478.9 697.1H1510.9V717.1H1478.9zM1702.7 697.1H1734.7V717.1H1702.7zM1207.0 717.0H1239.0V737.0H1207.0zM1366.9 717.0H1398.8V737.0H1366.9zM1478.9 717.0H1510.9V737.0H1478.9zM935.1 756.7H967.1V776.6H935.1zM1063.0 756.7H1095.0V776.6H1063.0zM1398.8 756.7H1430.8V776.6H1398.8zM695.2 790.4H727.1V810.4H695.2zM791.1 790.4H823.1V810.4H791.1zM935.1 810.3H967.1V830.3H935.1zM1063.0 810.3H1095.0V830.3H1063.0zM183.3 830.2H215.3V850.2H183.3zM551.2 830.2H615.1V850.2H551.2zM727.1 830.2H759.1V850.2H727.1zM391.3 850.1H455.2V870.1H391.3zM519.2 850.1H583.2V870.1H519.2zM615.1 850.1H647.1V870.1H615.1zM1207.0 850.1H1334.9V870.1H1207.0zM1366.9 850.1H1462.8V870.1H1366.9zM1302.9 869.9H1334.9V890.0H1302.9zM1398.8 869.9H1430.8V890.0H1398.8zM1702.7 869.9H1734.7V890.0H1702.7zM279.3 889.8H311.2V909.9H279.3zM615.1 889.8H647.1V909.9H615.1zM727.1 889.8H791.1V909.9H727.1zM855.0 889.8H919.0V909.9H855.0zM935.1 889.8H967.1V909.9H935.1zM1126.9 889.8H1158.9V909.9H1126.9zM1207.0 889.8H1239.0V909.9H1207.0zM1334.9 889.8H1366.9V909.9H1334.9zM1510.9 889.8H1606.8V909.9H1510.9zM1670.8 889.8H1734.7V909.9H1670.8zM119.4 909.7H183.3V929.7H119.4zM215.3 909.7H247.3V929.7H215.3zM279.3 909.7H375.2V929.7H279.3zM391.3 909.7H487.2V929.7H391.3zM583.2 909.7H647.1V929.7H583.2zM519.2 929.6H551.2V949.6H519.2zM663.2 929.6H695.2V949.6H663.2zM887.0 929.6H919.0V949.6H887.0zM1334.9 929.6H1366.9V949.6H1334.9zM1398.8 929.6H1462.8V949.6H1398.8zM1478.9 929.6H1542.8V949.6H1478.9zM1638.8 929.6H1702.7V949.6H1638.8zM183.3 969.4H247.3V989.4H183.3zM279.3 969.4H311.2V989.4H279.3zM1430.8 969.4H1462.8V989.4H1430.8zM1510.9 969.4H1542.8V989.4H1510.9zM1702.7 969.4H1734.7V989.4H1702.7zM247.3 989.2H279.3V1009.3H247.3zM343.2 989.2H375.2V1009.3H343.2zM423.3 989.2H455.2V1009.3H423.3zM1606.8 989.2H1638.8V1009.3H1606.8zM423.3 1009.1H455.2V1029.2H423.3zM663.2 1009.1H695.2V1029.2H663.2zM967.1 1009.1H999.0V1029.2H967.1zM1302.9 1009.1H1334.9V1029.2H1302.9zM967.1 1029.0H999.0V1049.1H967.1zM1158.9 1029.0H1190.9V1049.1H1158.9zM1239.0 1029.0H1302.9V1049.1H1239.0zM1334.9 1029.0H1366.9V1049.1H1334.9zM1430.8 1029.0H1462.8V1049.1H1430.8zM1478.9 1029.0H1542.8V1049.1H1478.9zM1574.8 1029.0H1670.8V1049.1H1574.8zM1702.7 1029.0H1734.7V1049.1H1702.7zM119.4 1048.9H183.3V1068.9H119.4zM247.3 1048.9H311.2V1068.9H247.3zM343.2 1048.9H375.2V1068.9H343.2zM391.3 1048.9H423.3V1068.9H391.3zM519.2 1048.9H551.2V1068.9H519.2zM727.1 1048.9H759.1V1068.9H727.1zM1430.8 1048.9H1462.8V1068.9H1430.8zM727.1 1068.8H759.1V1088.8H727.1zM823.1 1068.8H855.0V1088.8H823.1zM215.3 1088.7H247.3V1108.7H215.3zM615.1 1088.7H647.1V1108.7H615.1zM855.0 1088.7H887.0V1108.7H855.0zM967.1 1088.7H999.0V1108.7H967.1zM1095.0 1088.7H1126.9V1108.7H1095.0zM1239.0 1088.7H1270.9V1108.7H1239.0zM663.2 1108.6H695.2V1128.6H663.2zM823.1 1108.6H855.0V1128.6H823.1zM1270.9 1108.6H1302.9V1128.6H1270.9zM1430.8 1108.6H1462.8V1128.6H1430.8zM1702.7 1108.6H1734.7V1128.6H1702.7zM663.2 1128.4H695.2V1148.5H663.2zM1574.8 1128.4H1606.8V1148.5H1574.8zM1638.8 1128.4H1670.8V1148.5H1638.8zM823.1 1148.3H855.0V1168.4H823.1zM1207.0 1148.3H1270.9V1168.4H1207.0zM1334.9 1148.3H1398.8V1168.4H1334.9zM1478.9 1148.3H1542.8V1168.4H1478.9zM1606.8 1148.3H1670.8V1168.4H1606.8zM1207.0 1168.2H1270.9V1188.2H1207.0zM1334.9 1168.2H1366.9V1188.2H1334.9z"/>
<path fill="#7145ff" shape-rendering="crispEdges" d="M279.3 87.7H311.2V107.7H279.3zM551.2 87.7H615.1V107.7H551.2zM791.1 87.7H855.0V107.7H791.1zM1126.9 87.7H1158.9V107.7H1126.9zM1334.9 87.7H1430.8V107.7H1334.9zM1702.7 87.7H1734.7V107.7H1702.7zM151.4 107.5H279.3V127.5H151.4zM999.0 107.5H1031.0V127.5H999.0zM695.2 127.3H727.1V147.3H695.2zM791.1 127.3H855.0V147.3H791.1zM999.0 127.3H1031.0V147.3H999.0zM1126.9 127.3H1158.9V147.3H1126.9zM215.3 147.1H279.3V167.1H215.3zM391.3 147.1H423.3V167.1H391.3zM615.1 147.1H647.1V167.1H615.1zM791.1 147.1H823.1V167.1H791.1zM1063.0 147.1H1095.0V167.1H1063.0zM1430.8 147.1H1462.8V167.1H1430.8zM1574.8 147.1H1606.8V167.1H1574.8zM1702.7 147.1H1734.7V167.1H1702.7zM1207.0 166.9H1270.9V186.9H1207.0zM1334.9 166.9H1462.8V186.9H1334.9zM151.4 206.5H183.3V226.5H151.4zM423.3 206.5H455.2V226.5H423.3zM519.2 206.5H583.2V226.5H519.2zM695.2 206.5H727.1V226.5H695.2zM791.1 206.5H855.0V226.5H791.1zM935.1 206.5H999.0V226.5H935.1zM1095.0 206.5H1126.9V226.5H1095.0zM1207.0 206.5H1270.9V226.5H1207.0zM1334.9 206.5H1398.8V226.5H1334.9zM1606.8 206.5H1638.8V226.5H1606.8zM151.4 260.5H183.3V280.5H151.4zM279.3 260.5H311.2V280.5H279.3zM423.3 260.5H455.2V280.5H423.3zM551.2 260.5H615.1V280.5H551.2zM695.2 260.5H727.1V280.5H695.2zM823.1 260.5H855.0V280.5H823.1zM967.1 260.5H999.0V280.5H967.1zM1095.0 260.5H1126.9V280.5H1095.0zM1366.9 260.5H1398.8V280.5H1366.9zM311.2 320.1H375.2V340.1H311.2zM455.2 320.1H487.2V340.1H455.2zM583.2 320.1H647.1V340.1H583.2zM1270.9 339.9H1334.9V359.9H1270.9zM1398.8 339.9H1430.8V359.9H1398.8zM119.4 359.8H151.4V379.8H119.4zM391.3 359.8H455.2V379.8H391.3zM519.2 359.8H583.2V379.8H519.2zM935.1 359.8H967.1V379.8H935.1zM487.2 379.6H519.2V399.6H487.2zM615.1 379.6H647.1V399.6H615.1zM759.1 379.6H791.1V399.6H759.1zM695.2 399.5H759.1V419.4H695.2zM823.1 399.5H855.0V419.4H823.1zM887.0 399.5H919.0V419.4H887.0zM119.4 419.3H151.4V439.3H119.4zM247.3 419.3H279.3V439.3H247.3zM343.2 419.3H375.2V439.3H343.2zM695.2 419.3H727.1V439.3H695.2zM935.1 419.3H967.1V439.3H935.1zM1095.0 419.3H1126.9V439.3H1095.0zM151.4 439.1H183.3V459.1H151.4zM391.3 439.1H455.2V459.1H391.3zM519.2 439.1H551.2V459.1H519.2zM695.2 439.1H727.1V459.1H695.2zM455.2 478.8H519.2V498.8H455.2zM583.2 478.8H647.1V498.8H583.2zM935.1 478.8H999.0V498.8H935.1zM119.4 498.7H151.4V518.7H119.4zM247.3 498.7H279.3V518.7H247.3zM391.3 498.7H423.3V518.7H391.3zM455.2 498.7H487.2V518.7H455.2zM519.2 498.7H551.2V518.7H519.2zM583.2 498.7H615.1V518.7H583.2zM887.0 498.7H919.0V518.7H887.0zM391.3 518.5H487.2V538.5H391.3zM519.2 518.5H615.1V538.5H519.2zM727.1 518.5H759.1V538.5H727.1zM855.0 518.5H919.0V538.5H855.0zM1126.9 518.5H1158.9V538.5H1126.9zM1302.9 518.5H1462.8V538.5H1302.9zM1606.8 518.5H1638.8V538.5H1606.8zM1702.7 518.5H1734.7V538.5H1702.7zM183.3 538.4H215.3V558.4H183.3zM247.3 538.4H279.3V558.4H247.3zM343.2 538.4H375.2V558.4H343.2zM391.3 538.4H423.3V558.4H391.3zM455.2 538.4H487.2V558.4H455.2zM519.2 538.4H551.2V558.4H519.2zM663.2 538.4H695.2V558.4H663.2zM791.1 538.4H823.1V558.4H791.1zM935.1 538.4H967.1V558.4H935.1zM999.0 538.4H1031.0V558.4H999.0zM1063.0 538.4H1095.0V558.4H1063.0zM183.3 558.2H247.3V578.2H183.3zM279.3 558.2H343.2V578.2H279.3zM487.2 558.2H519.2V578.2H487.2zM583.2 558.2H615.1V578.2H583.2zM343.2 578.1H375.2V598.0H343.2zM391.3 578.1H455.2V598.0H391.3zM551.2 578.1H615.1V598.0H551.2zM695.2 578.1H727.1V598.0H695.2zM1270.9 578.1H1334.9V598.0H1270.9zM1398.8 578.1H1430.8V598.0H1398.8zM1510.9 578.1H1606.8V598.0H1510.9zM1638.8 578.1H1702.7V598.0H1638.8zM151.4 597.9H247.3V617.9H151.4zM279.3 597.9H311.2V617.9H279.3zM343.2 597.9H375.2V617.9H343.2zM423.3 597.9H519.2V617.9H423.3zM695.2 597.9H727.1V617.9H695.2zM823.1 597.9H855.0V617.9H823.1zM1270.9 597.9H1302.9V617.9H1270.9zM1398.8 597.9H1430.8V617.9H1398.8zM1478.9 597.9H1510.9V617.9H1478.9zM1574.8 597.9H1638.8V617.9H1574.8zM1670.8 597.9H1734.7V617.9H1670.8zM391.3 617.7H487.2V637.7H391.3zM1095.0 617.7H1158.9V637.7H1095.0zM1366.9 617.7H1398.8V637.7H1366.9zM1606.8 617.7H1670.8V637.7H1606.8zM119.4 637.6H151.4V657.6H119.4zM519.2 637.6H583.2V657.6H519.2zM615.1 637.6H647.1V657.6H615.1zM1095.0 637.6H1126.9V657.6H1095.0zM1334.9 637.6H1462.8V657.6H1334.9zM1478.9 637.6H1606.8V657.6H1478.9zM1702.7 637.6H1734.7V657.6H1702.7zM183.3 657.4H215.3V677.4H183.3zM487.2 657.4H519.2V677.4H487.2zM663.2 657.4H695.2V677.4H663.2zM791.1 657.4H823.1V677.4H791.1zM1031.0 657.4H1095.0V677.4H1031.0zM1158.9 657.4H1190.9V677.4H1158.9zM1239.0 657.4H1270.9V677.4H1239.0zM1430.8 657.4H1462.8V677.4H1430.8zM1478.9 657.4H1510.9V677.4H1478.9zM1574.8 657.4H1670.8V677.4H1574.8zM151.4 677.3H183.3V697.3H151.4zM247.3 677.3H311.2V697.3H247.3zM615.1 677.3H647.1V697.3H615.1zM791.1 677.3H823.1V697.3H791.1zM967.1 677.3H999.0V697.3H967.1zM1063.0 677.3H1095.0V697.3H1063.0zM1270.9 677.3H1398.8V697.3H1270.9zM695.2 697.1H727.1V717.1H695.2zM999.0 697.1H1095.0V717.1H999.0zM1334.9 697.1H1366.9V717.1H1334.9zM1398.8 697.1H1430.8V717.1H1398.8zM1638.8 697.1H1702.7V717.1H1638.8zM823.1 717.0H855.0V737.0H823.1zM1239.0 717.0H1270.9V737.0H1239.0zM1207.0 756.7H1398.8V776.6H1207.0zM1430.8 756.7H1462.8V776.6H1430.8zM663.2 810.3H695.2V830.3H663.2zM727.1 810.3H791.1V830.3H727.1zM823.1 810.3H887.0V830.3H823.1zM119.4 830.2H151.4V850.2H119.4zM215.3 830.2H247.3V850.2H215.3zM391.3 830.2H551.2V850.2H391.3zM615.1 830.2H647.1V850.2H615.1zM663.2 830.2H695.2V850.2H663.2zM759.1 830.2H823.1V850.2H759.1zM887.0 830.2H919.0V850.2H887.0zM935.1 830.2H967.1V850.2H935.1zM1031.0 830.2H1095.0V850.2H1031.0zM1158.9 830.2H1190.9V850.2H1158.9zM119.4 850.1H279.3V870.1H119.4zM455.2 850.1H519.2V870.1H455.2zM583.2 850.1H615.1V870.1H583.2zM1270.9 889.8H1334.9V909.9H1270.9zM1398.8 889.8H1462.8V909.9H1398.8zM455.2 929.6H519.2V949.6H455.2zM551.2 929.6H647.1V949.6H551.2zM855.0 929.6H887.0V949.6H855.0zM999.0 929.6H1063.0V949.6H999.0zM1542.8 929.6H1606.8V949.6H1542.8zM695.2 949.5H727.1V969.5H695.2zM967.1 949.5H999.0V969.5H967.1zM1063.0 949.5H1095.0V969.5H1063.0zM311.2 969.4H375.2V989.4H311.2zM391.3 969.4H455.2V989.4H391.3zM519.2 969.4H583.2V989.4H519.2zM999.0 969.4H1063.0V989.4H999.0zM1126.9 969.4H1190.9V989.4H1126.9zM1270.9 969.4H1334.9V989.4H1270.9zM1398.8 969.4H1430.8V989.4H1398.8zM1542.8 969.4H1606.8V989.4H1542.8zM1670.8 969.4H1702.7V989.4H1670.8zM151.4 989.2H183.3V1009.3H151.4zM311.2 989.2H343.2V1009.3H311.2zM391.3 989.2H423.3V1009.3H391.3zM519.2 989.2H583.2V1009.3H519.2zM727.1 989.2H759.1V1009.3H727.1zM999.0 989.2H1063.0V1009.3H999.0zM1126.9 989.2H1190.9V1009.3H1126.9zM1638.8 989.2H1670.8V1009.3H1638.8zM119.4 1009.1H183.3V1029.2H119.4zM215.3 1009.1H247.3V1029.2H215.3zM615.1 1009.1H647.1V1029.2H615.1zM695.2 1009.1H727.1V1029.2H695.2zM887.0 1009.1H919.0V1029.2H887.0zM1158.9 1009.1H1190.9V1029.2H1158.9zM1270.9 1009.1H1302.9V1029.2H1270.9zM1031.0 1029.0H1063.0V1049.1H1031.0zM1095.0 1029.0H1126.9V1049.1H1095.0zM1207.0 1029.0H1239.0V1049.1H1207.0zM1366.9 1029.0H1398.8V1049.1H1366.9zM423.3 1048.9H455.2V1068.9H423.3zM551.2 1048.9H583.2V1068.9H551.2zM935.1 1048.9H967.1V1068.9H935.1zM1031.0 1048.9H1095.0V1068.9H1031.0zM1158.9 1048.9H1190.9V1068.9H1158.9zM1302.9 1048.9H1334.9V1068.9H1302.9zM1366.9 1048.9H1398.8V1068.9H1366.9zM1542.8 1048.9H1574.8V1068.9H1542.8zM1670.8 1048.9H1702.7V1068.9H1670.8zM119.4 1068.8H247.3V1088.8H119.4zM311.2 1068.8H343.2V1088.8H311.2zM391.3 1068.8H647.1V1088.8H391.3zM695.2 1068.8H727.1V1088.8H695.2zM759.1 1068.8H791.1V1088.8H759.1zM887.0 1068.8H919.0V1088.8H887.0zM999.0 1068.8H1063.0V1088.8H999.0zM1126.9 1068.8H1190.9V1088.8H1126.9zM311.2 1088.7H375.2V1108.7H311.2zM391.3 1088.7H423.3V1108.7H391.3zM455.2 1088.7H487.2V1108.7H455.2zM583.2 1088.7H615.1V1108.7H583.2zM695.2 1088.7H759.1V1108.7H695.2zM823.1 1088.7H855.0V1108.7H823.1zM887.0 1088.7H919.0V1108.7H887.0zM999.0 1088.7H1063.0V1108.7H999.0zM1126.9 1088.7H1158.9V1108.7H1126.9zM1638.8 1088.7H1670.8V1108.7H1638.8zM119.4 1108.6H183.3V1128.6H119.4zM215.3 1108.6H279.3V1128.6H215.3zM311.2 1108.6H375.2V1128.6H311.2zM391.3 1108.6H455.2V1128.6H391.3zM519.2 1108.6H647.1V1128.6H519.2zM695.2 1108.6H759.1V1128.6H695.2zM791.1 1108.6H823.1V1128.6H791.1zM855.0 1108.6H919.0V1128.6H855.0zM999.0 1108.6H1063.0V1128.6H999.0zM1126.9 1108.6H1190.9V1128.6H1126.9zM1302.9 1108.6H1334.9V1128.6H1302.9zM1398.8 1108.6H1430.8V1128.6H1398.8zM1542.8 1108.6H1606.8V1128.6H1542.8zM1670.8 1108.6H1702.7V1128.6H1670.8zM183.3 1128.4H247.3V1148.5H183.3zM695.2 1128.4H727.1V1148.5H695.2zM1158.9 1128.4H1190.9V1148.5H1158.9zM1542.8 1128.4H1574.8V1148.5H1542.8zM1670.8 1128.4H1702.7V1148.5H1670.8z"/>
<path fill="#efe3ff" shape-rendering="crispEdges" d="M311.2 87.7H343.2V107.7H311.2zM1478.9 127.3H1510.9V147.3H1478.9zM1542.8 127.3H1702.7V147.3H1542.8zM1270.9 147.1H1302.9V167.1H1270.9zM1158.9 166.9H1190.9V186.9H1158.9zM1302.9 186.7H1334.9V206.7H1302.9zM1542.8 206.5H1606.8V226.5H1542.8zM1670.8 206.5H1702.7V226.5H1670.8zM151.4 240.7H215.3V260.7H151.4zM279.3 240.7H311.2V260.7H279.3zM551.2 240.7H615.1V260.7H551.2zM999.0 240.7H1063.0V260.7H999.0zM1126.9 240.7H1158.9V260.7H1126.9zM1239.0 240.7H1270.9V260.7H1239.0zM391.3 260.5H423.3V280.5H391.3zM519.2 260.5H551.2V280.5H519.2zM855.0 260.5H887.0V280.5H855.0zM1270.9 260.5H1302.9V280.5H1270.9zM1478.9 260.5H1574.8V280.5H1478.9zM1606.8 260.5H1638.8V280.5H1606.8zM455.2 280.4H519.2V300.4H455.2zM583.2 280.4H615.1V300.4H583.2zM695.2 280.4H727.1V300.4H695.2zM1063.0 280.4H1095.0V300.4H1063.0zM1239.0 280.4H1270.9V300.4H1239.0zM1398.8 280.4H1462.8V300.4H1398.8zM1510.9 280.4H1542.8V300.4H1510.9zM1574.8 280.4H1606.8V300.4H1574.8zM551.2 300.2H583.2V320.2H551.2zM1158.9 300.2H1190.9V320.2H1158.9zM1430.8 300.2H1462.8V320.2H1430.8zM1574.8 300.2H1606.8V320.2H1574.8zM1670.8 300.2H1702.7V320.2H1670.8zM151.4 320.1H183.3V340.1H151.4zM1478.9 339.9H1510.9V359.9H1478.9zM311.2 359.8H343.2V379.8H311.2zM855.0 359.8H887.0V379.8H855.0zM1063.0 399.5H1095.0V419.4H1063.0zM1126.9 399.5H1158.9V419.4H1126.9zM1239.0 399.5H1270.9V419.4H1239.0zM215.3 419.3H247.3V439.3H215.3zM1478.9 419.3H1510.9V439.3H1478.9zM1638.8 419.3H1670.8V439.3H1638.8zM615.1 439.1H647.1V459.1H615.1zM759.1 439.1H791.1V459.1H759.1zM855.0 439.1H887.0V459.1H855.0zM1606.8 439.1H1670.8V459.1H1606.8zM119.4 459.0H247.3V479.0H119.4zM727.1 459.0H759.1V479.0H727.1zM967.1 459.0H999.0V479.0H967.1zM1158.9 459.0H1190.9V479.0H1158.9zM1158.9 478.8H1190.9V498.8H1158.9zM1478.9 478.8H1606.8V498.8H1478.9zM1638.8 478.8H1734.7V498.8H1638.8zM1031.0 498.7H1063.0V518.7H1031.0zM663.2 518.5H695.2V538.5H663.2zM791.1 518.5H823.1V538.5H791.1zM1158.9 518.5H1190.9V538.5H1158.9zM615.1 538.4H647.1V558.4H615.1zM759.1 538.4H791.1V558.4H759.1zM695.2 558.2H727.1V578.2H695.2zM1207.0 558.2H1239.0V578.2H1207.0zM1606.8 558.2H1638.8V578.2H1606.8zM1158.9 597.9H1190.9V617.9H1158.9zM887.0 617.7H919.0V637.7H887.0zM1207.0 617.7H1239.0V637.7H1207.0zM855.0 637.6H887.0V657.6H855.0zM1207.0 637.6H1239.0V657.6H1207.0zM1270.9 637.6H1334.9V657.6H1270.9zM1398.8 657.4H1430.8V677.4H1398.8zM343.2 677.3H375.2V697.3H343.2zM1430.8 677.3H1462.8V697.3H1430.8zM935.1 736.8H967.1V756.8H935.1zM1574.8 736.8H1606.8V756.8H1574.8zM1670.8 736.8H1702.7V756.8H1670.8zM1031.0 756.7H1063.0V776.6H1031.0zM247.3 790.4H279.3V810.4H247.3zM423.3 790.4H455.2V810.4H423.3zM519.2 790.4H583.2V810.4H519.2zM1478.9 790.4H1542.8V810.4H1478.9zM1606.8 790.4H1638.8V810.4H1606.8zM1670.8 790.4H1702.7V810.4H1670.8zM279.3 830.2H311.2V850.2H279.3zM1095.0 830.2H1126.9V850.2H1095.0zM1398.8 830.2H1430.8V850.2H1398.8zM1031.0 869.9H1063.0V890.0H1031.0zM1334.9 869.9H1366.9V890.0H1334.9zM119.4 889.8H151.4V909.9H119.4zM215.3 889.8H279.3V909.9H215.3zM823.1 889.8H855.0V909.9H823.1zM695.2 909.7H727.1V929.7H695.2zM999.0 909.7H1031.0V929.7H999.0zM1063.0 909.7H1095.0V929.7H1063.0zM1126.9 909.7H1158.9V929.7H1126.9zM1270.9 909.7H1302.9V929.7H1270.9zM1638.8 909.7H1670.8V929.7H1638.8zM1207.0 1068.8H1239.0V1088.8H1207.0zM1207.0 1088.7H1239.0V1108.7H1207.0zM1270.9 1088.7H1302.9V1108.7H1270.9zM1334.9 1088.7H1366.9V1108.7H1334.9zM1702.7 1088.7H1734.7V1108.7H1702.7zM1606.8 1108.6H1638.8V1128.6H1606.8zM1095.0 1128.4H1126.9V1148.5H1095.0zM1270.9 1128.4H1334.9V1148.5H1270.9zM247.3 1148.3H311.2V1168.4H247.3zM391.3 1148.3H423.3V1168.4H391.3zM1270.9 1148.3H1302.9V1168.4H1270.9zM1430.8 1168.2H1462.8V1188.2H1430.8zM1542.8 1168.2H1606.8V1188.2H1542.8zM1702.7 1168.2H1734.7V1188.2H1702.7z"/>
<path fill="#4020ff" shape-rendering="crispEdges" d="M343.2 87.7H375.2V107.7H343.2zM1606.8 87.7H1638.8V107.7H1606.8zM759.1 107.5H855.0V127.5H759.1zM119.4 147.1H151.4V167.1H119.4zM343.2 147.1H375.2V167.1H343.2zM487.2 147.1H551.2V167.1H487.2zM663.2 147.1H695.2V167.1H663.2zM759.1 147.1H791.1V167.1H759.1zM887.0 147.1H919.0V167.1H887.0zM935.1 147.1H967.1V167.1H935.1zM1207.0 147.1H1239.0V167.1H1207.0zM1302.9 147.1H1366.9V167.1H1302.9zM119.4 166.9H279.3V186.9H119.4zM311.2 166.9H375.2V186.9H311.2zM183.3 320.1H247.3V340.1H183.3zM487.2 320.1H519.2V340.1H487.2zM119.4 399.5H151.4V419.4H119.4zM311.2 399.5H375.2V419.4H311.2zM391.3 399.5H455.2V419.4H391.3zM519.2 399.5H551.2V419.4H519.2zM583.2 399.5H615.1V419.4H583.2zM855.0 399.5H887.0V419.4H855.0zM151.4 419.3H183.3V439.3H151.4zM279.3 419.3H311.2V439.3H279.3zM247.3 439.1H311.2V459.1H247.3zM551.2 439.1H583.2V459.1H551.2zM215.3 478.8H279.3V498.8H215.3zM343.2 478.8H375.2V498.8H343.2zM391.3 478.8H455.2V498.8H391.3zM519.2 478.8H551.2V498.8H519.2zM183.3 498.7H247.3V518.7H183.3zM343.2 498.7H375.2V518.7H343.2zM487.2 498.7H519.2V518.7H487.2zM615.1 498.7H647.1V518.7H615.1zM1239.0 498.7H1270.9V518.7H1239.0zM1366.9 498.7H1398.8V518.7H1366.9zM119.4 518.5H279.3V538.5H119.4zM311.2 518.5H375.2V538.5H311.2zM487.2 518.5H519.2V538.5H487.2zM615.1 518.5H647.1V538.5H615.1zM759.1 518.5H791.1V538.5H759.1zM583.2 538.4H615.1V558.4H583.2zM727.1 538.4H759.1V558.4H727.1zM1126.9 538.4H1158.9V558.4H1126.9zM119.4 578.1H247.3V598.0H119.4zM279.3 578.1H343.2V598.0H279.3zM455.2 578.1H551.2V598.0H455.2zM615.1 578.1H647.1V598.0H615.1zM663.2 578.1H695.2V598.0H663.2zM727.1 578.1H791.1V598.0H727.1zM855.0 578.1H919.0V598.0H855.0zM935.1 578.1H1063.0V598.0H935.1zM1126.9 578.1H1190.9V598.0H1126.9zM1207.0 578.1H1239.0V598.0H1207.0zM967.1 597.9H1031.0V617.9H967.1zM1095.0 597.9H1158.9V617.9H1095.0zM1239.0 597.9H1270.9V617.9H1239.0zM1366.9 597.9H1398.8V617.9H1366.9zM1510.9 597.9H1574.8V617.9H1510.9zM1638.8 597.9H1670.8V617.9H1638.8zM119.4 617.7H279.3V637.7H119.4zM343.2 617.7H375.2V637.7H343.2zM519.2 617.7H647.1V637.7H519.2zM311.2 637.6H343.2V657.6H311.2zM583.2 637.6H615.1V657.6H583.2zM791.1 637.6H855.0V657.6H791.1zM1126.9 637.6H1158.9V657.6H1126.9zM1606.8 637.6H1702.7V657.6H1606.8zM119.4 657.4H183.3V677.4H119.4zM215.3 657.4H343.2V677.4H215.3zM391.3 657.4H455.2V677.4H391.3zM519.2 657.4H583.2V677.4H519.2zM615.1 657.4H647.1V677.4H615.1zM695.2 657.4H727.1V677.4H695.2zM759.1 657.4H791.1V677.4H759.1zM823.1 657.4H855.0V677.4H823.1zM887.0 657.4H919.0V677.4H887.0zM967.1 657.4H999.0V677.4H967.1zM1095.0 657.4H1126.9V677.4H1095.0zM1302.9 657.4H1334.9V677.4H1302.9zM1366.9 657.4H1398.8V677.4H1366.9zM1510.9 657.4H1542.8V677.4H1510.9zM1702.7 657.4H1734.7V677.4H1702.7zM391.3 677.3H615.1V697.3H391.3zM663.2 677.3H727.1V697.3H663.2zM935.1 677.3H967.1V697.3H935.1zM1207.0 677.3H1270.9V697.3H1207.0zM391.3 697.1H423.3V717.1H391.3zM663.2 697.1H695.2V717.1H663.2zM727.1 697.1H791.1V717.1H727.1zM855.0 697.1H919.0V717.1H855.0zM1095.0 697.1H1190.9V717.1H1095.0zM1606.8 697.1H1638.8V717.1H1606.8zM663.2 717.0H727.1V737.0H663.2zM791.1 717.0H823.1V737.0H791.1zM967.1 717.0H999.0V737.0H967.1zM1063.0 717.0H1126.9V737.0H1063.0zM1510.9 717.0H1542.8V737.0H1510.9zM1478.9 756.7H1542.8V776.6H1478.9zM1574.8 756.7H1638.8V776.6H1574.8zM1670.8 756.7H1734.7V776.6H1670.8zM215.3 810.3H247.3V830.3H215.3zM311.2 810.3H343.2V830.3H311.2zM391.3 810.3H455.2V830.3H391.3zM487.2 810.3H647.1V830.3H487.2zM695.2 810.3H727.1V830.3H695.2zM791.1 810.3H823.1V830.3H791.1zM887.0 810.3H919.0V830.3H887.0zM279.3 850.1H343.2V870.1H279.3zM311.2 869.9H343.2V890.0H311.2zM759.1 869.9H823.1V890.0H759.1zM119.4 929.6H343.2V949.6H119.4zM391.3 929.6H455.2V949.6H391.3zM695.2 929.6H791.1V949.6H695.2zM1207.0 929.6H1334.9V949.6H1207.0zM1366.9 929.6H1398.8V949.6H1366.9zM551.2 949.5H583.2V969.5H551.2zM791.1 949.5H823.1V969.5H791.1zM999.0 949.5H1031.0V969.5H999.0zM1158.9 949.5H1190.9V969.5H1158.9zM455.2 969.4H519.2V989.4H455.2zM583.2 969.4H647.1V989.4H583.2zM727.1 969.4H791.1V989.4H727.1zM855.0 969.4H919.0V989.4H855.0zM119.4 989.2H151.4V1009.3H119.4zM183.3 989.2H247.3V1009.3H183.3zM455.2 989.2H519.2V1009.3H455.2zM583.2 989.2H647.1V1009.3H583.2zM759.1 989.2H791.1V1009.3H759.1zM855.0 989.2H919.0V1009.3H855.0zM1239.0 989.2H1334.9V1009.3H1239.0zM1478.9 989.2H1606.8V1009.3H1478.9zM1670.8 989.2H1734.7V1009.3H1670.8zM279.3 1009.1H311.2V1029.2H279.3zM519.2 1009.1H615.1V1029.2H519.2zM791.1 1009.1H887.0V1029.2H791.1zM1063.0 1009.1H1095.0V1029.2H1063.0zM1126.9 1009.1H1158.9V1029.2H1126.9zM1207.0 1009.1H1270.9V1029.2H1207.0zM1398.8 1009.1H1462.8V1029.2H1398.8zM1542.8 1009.1H1574.8V1029.2H1542.8zM151.4 1029.0H183.3V1049.1H151.4zM247.3 1029.0H279.3V1049.1H247.3zM423.3 1029.0H487.2V1049.1H423.3zM519.2 1029.0H551.2V1049.1H519.2zM615.1 1029.0H647.1V1049.1H615.1zM663.2 1029.0H759.1V1049.1H663.2zM791.1 1029.0H887.0V1049.1H791.1zM935.1 1029.0H967.1V1049.1H935.1zM1063.0 1029.0H1095.0V1049.1H1063.0zM663.2 1048.9H727.1V1068.9H663.2zM791.1 1048.9H855.0V1068.9H791.1zM967.1 1048.9H999.0V1068.9H967.1zM1095.0 1048.9H1126.9V1068.9H1095.0zM1207.0 1048.9H1270.9V1068.9H1207.0zM1334.9 1048.9H1366.9V1068.9H1334.9zM1478.9 1048.9H1542.8V1068.9H1478.9zM1574.8 1048.9H1606.8V1068.9H1574.8zM1702.7 1048.9H1734.7V1068.9H1702.7zM247.3 1068.8H311.2V1088.8H247.3zM343.2 1068.8H375.2V1088.8H343.2zM119.4 1088.7H215.3V1108.7H119.4zM247.3 1088.7H311.2V1108.7H247.3zM423.3 1088.7H455.2V1108.7H423.3zM519.2 1088.7H583.2V1108.7H519.2zM1158.9 1088.7H1190.9V1108.7H1158.9zM1366.9 1088.7H1398.8V1108.7H1366.9zM183.3 1108.6H215.3V1128.6H183.3zM455.2 1108.6H519.2V1128.6H455.2zM759.1 1108.6H791.1V1128.6H759.1zM151.4 1128.4H183.3V1148.5H151.4zM247.3 1128.4H343.2V1148.5H247.3zM455.2 1128.4H551.2V1148.5H455.2zM583.2 1128.4H615.1V1148.5H583.2zM727.1 1128.4H887.0V1148.5H727.1zM999.0 1128.4H1063.0V1148.5H999.0zM1126.9 1128.4H1158.9V1148.5H1126.9z"/>
<path fill="#ff8d6e" shape-rendering="crispEdges" d="M423.3 87.7H455.2V107.7H423.3zM487.2 87.7H519.2V107.7H487.2zM663.2 87.7H695.2V107.7H663.2zM759.1 87.7H791.1V107.7H759.1zM1207.0 87.7H1239.0V107.7H1207.0zM1270.9 87.7H1302.9V107.7H1270.9zM1095.0 107.5H1126.9V127.5H1095.0zM967.1 127.3H999.0V147.3H967.1zM1095.0 127.3H1126.9V147.3H1095.0zM1207.0 127.3H1239.0V147.3H1207.0zM1302.9 127.3H1334.9V147.3H1302.9zM967.1 147.1H999.0V167.1H967.1zM1031.0 186.7H1063.0V206.7H1031.0zM119.4 240.7H151.4V260.7H119.4zM1207.0 240.7H1239.0V260.7H1207.0zM1334.9 240.7H1366.9V260.7H1334.9zM759.1 260.5H791.1V280.5H759.1zM1302.9 260.5H1334.9V280.5H1302.9zM1430.8 260.5H1462.8V280.5H1430.8zM663.2 300.2H695.2V320.2H663.2zM1606.8 300.2H1638.8V320.2H1606.8zM519.2 320.1H551.2V340.1H519.2zM663.2 320.1H727.1V340.1H663.2zM791.1 320.1H855.0V340.1H791.1zM1239.0 320.1H1270.9V340.1H1239.0zM1702.7 320.1H1734.7V340.1H1702.7zM279.3 339.9H311.2V359.9H279.3zM551.2 339.9H583.2V359.9H551.2zM663.2 339.9H695.2V359.9H663.2zM791.1 339.9H823.1V359.9H791.1zM1366.9 359.8H1398.8V379.8H1366.9zM1542.8 359.8H1606.8V379.8H1542.8zM1670.8 359.8H1734.7V379.8H1670.8zM823.1 379.6H855.0V399.6H823.1zM1095.0 379.6H1126.9V399.6H1095.0zM1670.8 419.3H1702.7V439.3H1670.8zM1031.0 439.1H1063.0V459.1H1031.0zM1270.9 439.1H1334.9V459.1H1270.9zM1542.8 439.1H1606.8V459.1H1542.8zM1702.7 439.1H1734.7V459.1H1702.7zM1239.0 478.8H1334.9V498.8H1239.0zM1366.9 478.8H1398.8V498.8H1366.9zM1430.8 478.8H1462.8V498.8H1430.8zM999.0 498.7H1031.0V518.7H999.0zM967.1 558.2H999.0V578.2H967.1zM1095.0 558.2H1126.9V578.2H1095.0zM727.1 637.6H759.1V657.6H727.1zM935.1 637.6H967.1V657.6H935.1zM183.3 717.0H215.3V737.0H183.3zM391.3 736.8H423.3V756.8H391.3zM487.2 736.8H519.2V756.8H487.2zM615.1 736.8H647.1V756.8H615.1zM695.2 736.8H727.1V756.8H695.2zM823.1 736.8H887.0V756.8H823.1zM1430.8 736.8H1462.8V756.8H1430.8zM311.2 756.7H375.2V776.6H311.2zM663.2 756.7H727.1V776.6H663.2zM791.1 756.7H855.0V776.6H791.1zM183.3 790.4H215.3V810.4H183.3zM1031.0 790.4H1063.0V810.4H1031.0zM1207.0 810.3H1239.0V830.3H1207.0zM1270.9 810.3H1462.8V830.3H1270.9zM1510.9 810.3H1574.8V830.3H1510.9zM1670.8 810.3H1734.7V830.3H1670.8zM1239.0 830.2H1302.9V850.2H1239.0zM1702.7 830.2H1734.7V850.2H1702.7zM663.2 850.1H727.1V870.1H663.2zM791.1 850.1H823.1V870.1H791.1zM999.0 850.1H1031.0V870.1H999.0zM1095.0 929.6H1126.9V949.6H1095.0zM791.1 989.2H823.1V1009.3H791.1zM999.0 1009.1H1031.0V1029.2H999.0zM999.0 1029.0H1031.0V1049.1H999.0zM1063.0 1068.8H1095.0V1088.8H1063.0zM1398.8 1068.8H1430.8V1088.8H1398.8zM1542.8 1068.8H1606.8V1088.8H1542.8zM1670.8 1068.8H1702.7V1088.8H1670.8zM1063.0 1088.7H1095.0V1108.7H1063.0zM967.1 1108.6H999.0V1128.6H967.1zM1366.9 1108.6H1398.8V1128.6H1366.9zM967.1 1128.4H999.0V1148.5H967.1zM1366.9 1128.4H1398.8V1148.5H1366.9zM311.2 1148.3H343.2V1168.4H311.2zM727.1 1148.3H759.1V1168.4H727.1zM999.0 1148.3H1063.0V1168.4H999.0zM1158.9 1148.3H1190.9V1168.4H1158.9zM759.1 1168.2H791.1V1188.2H759.1zM855.0 1168.2H887.0V1188.2H855.0z"/>
<path fill="#ff6544" shape-rendering="crispEdges" d="M695.2 87.7H759.1V107.7H695.2zM1302.9 87.7H1334.9V107.7H1302.9zM1063.0 127.3H1095.0V147.3H1063.0zM695.2 147.1H727.1V167.1H695.2zM1095.0 147.1H1126.9V167.1H1095.0zM183.3 186.7H247.3V206.7H183.3zM1158.9 186.7H1190.9V206.7H1158.9zM311.2 206.5H343.2V226.5H311.2zM455.2 206.5H519.2V226.5H455.2zM583.2 206.5H615.1V226.5H583.2zM727.1 206.5H791.1V226.5H727.1zM855.0 206.5H919.0V226.5H855.0zM887.0 260.5H919.0V280.5H887.0zM967.1 280.4H999.0V300.4H967.1zM967.1 300.2H999.0V320.2H967.1zM1095.0 300.2H1126.9V320.2H1095.0zM1239.0 300.2H1270.9V320.2H1239.0zM1366.9 300.2H1398.8V320.2H1366.9zM1366.9 320.1H1398.8V340.1H1366.9zM1510.9 320.1H1542.8V340.1H1510.9zM695.2 339.9H727.1V359.9H695.2zM967.1 339.9H999.0V359.9H967.1zM1063.0 339.9H1095.0V359.9H1063.0zM967.1 359.8H999.0V379.8H967.1zM1270.9 359.8H1302.9V379.8H1270.9zM1430.8 359.8H1462.8V379.8H1430.8zM1366.9 379.6H1430.8V399.6H1366.9zM1478.9 379.6H1734.7V399.6H1478.9zM1430.8 419.3H1462.8V439.3H1430.8zM1126.9 439.1H1158.9V459.1H1126.9zM1398.8 439.1H1462.8V459.1H1398.8zM1670.8 439.1H1702.7V459.1H1670.8zM1207.0 478.8H1239.0V498.8H1207.0zM1334.9 478.8H1366.9V498.8H1334.9zM1398.8 478.8H1430.8V498.8H1398.8zM935.1 518.5H967.1V538.5H935.1zM1239.0 558.2H1270.9V578.2H1239.0zM855.0 597.9H887.0V617.9H855.0zM727.1 617.7H791.1V637.7H727.1zM759.1 637.6H791.1V657.6H759.1zM967.1 637.6H999.0V657.6H967.1zM1031.0 637.6H1063.0V657.6H1031.0zM999.0 657.4H1031.0V677.4H999.0zM1158.9 677.3H1190.9V697.3H1158.9zM119.4 717.0H183.3V737.0H119.4zM215.3 717.0H279.3V737.0H215.3zM311.2 717.0H343.2V737.0H311.2zM119.4 736.8H151.4V756.8H119.4zM215.3 736.8H247.3V756.8H215.3zM423.3 736.8H487.2V756.8H423.3zM519.2 736.8H615.1V756.8H519.2zM1158.9 736.8H1190.9V756.8H1158.9zM1302.9 736.8H1334.9V756.8H1302.9zM119.4 756.7H151.4V776.6H119.4zM391.3 756.7H455.2V776.6H391.3zM519.2 756.7H583.2V776.6H519.2zM727.1 756.7H791.1V776.6H727.1zM855.0 756.7H919.0V776.6H855.0zM1126.9 790.4H1158.9V810.4H1126.9zM1302.9 790.4H1334.9V810.4H1302.9zM1239.0 810.3H1270.9V830.3H1239.0zM1478.9 810.3H1510.9V830.3H1478.9zM1606.8 830.2H1702.7V850.2H1606.8zM1095.0 850.1H1126.9V870.1H1095.0zM1158.9 850.1H1190.9V870.1H1158.9zM967.1 969.4H999.0V989.4H967.1zM1063.0 969.4H1126.9V989.4H1063.0zM967.1 989.2H999.0V1009.3H967.1zM1095.0 989.2H1126.9V1009.3H1095.0zM759.1 1048.9H791.1V1068.9H759.1zM999.0 1048.9H1031.0V1068.9H999.0zM1702.7 1068.8H1734.7V1088.8H1702.7zM1334.9 1108.6H1366.9V1128.6H1334.9zM1334.9 1128.4H1366.9V1148.5H1334.9zM759.1 1148.3H791.1V1168.4H759.1zM855.0 1148.3H919.0V1168.4H855.0zM1126.9 1148.3H1158.9V1168.4H1126.9zM1126.9 1168.2H1190.9V1188.2H1126.9z"/>
<path fill="#ba94ff" shape-rendering="crispEdges" d="M855.0 87.7H887.0V107.7H855.0zM967.1 107.5H999.0V127.5H967.1zM1126.9 107.5H1190.9V127.5H1126.9zM1542.8 147.1H1574.8V167.1H1542.8zM1638.8 147.1H1670.8V167.1H1638.8zM967.1 166.9H999.0V186.9H967.1zM1095.0 166.9H1126.9V186.9H1095.0zM279.3 186.7H311.2V206.7H279.3zM391.3 186.7H455.2V206.7H391.3zM519.2 186.7H583.2V206.7H519.2zM663.2 186.7H727.1V206.7H663.2zM935.1 186.7H999.0V206.7H935.1zM1063.0 186.7H1126.9V206.7H1063.0zM1510.9 186.7H1542.8V206.7H1510.9zM1606.8 186.7H1638.8V206.7H1606.8zM391.3 206.5H423.3V226.5H391.3zM1702.7 206.5H1734.7V226.5H1702.7zM967.1 240.7H999.0V260.7H967.1zM1095.0 240.7H1126.9V260.7H1095.0zM311.2 260.5H343.2V280.5H311.2zM727.1 260.5H759.1V280.5H727.1zM999.0 260.5H1031.0V280.5H999.0zM1638.8 260.5H1670.8V280.5H1638.8zM391.3 280.4H455.2V300.4H391.3zM519.2 280.4H583.2V300.4H519.2zM727.1 280.4H791.1V300.4H727.1zM855.0 280.4H919.0V300.4H855.0zM935.1 280.4H967.1V300.4H935.1zM119.4 300.2H375.2V320.2H119.4zM487.2 300.2H519.2V320.2H487.2zM615.1 300.2H647.1V320.2H615.1zM1031.0 300.2H1063.0V320.2H1031.0zM1126.9 300.2H1158.9V320.2H1126.9zM1398.8 300.2H1430.8V320.2H1398.8zM279.3 320.1H311.2V340.1H279.3zM759.1 320.1H791.1V340.1H759.1zM855.0 320.1H887.0V340.1H855.0zM1270.9 320.1H1334.9V340.1H1270.9zM1398.8 320.1H1430.8V340.1H1398.8zM455.2 339.9H487.2V359.9H455.2zM583.2 339.9H647.1V359.9H583.2zM855.0 339.9H887.0V359.9H855.0zM999.0 339.9H1031.0V359.9H999.0zM1702.7 339.9H1734.7V359.9H1702.7zM151.4 359.8H183.3V379.8H151.4zM215.3 359.8H247.3V379.8H215.3zM487.2 359.8H519.2V379.8H487.2zM615.1 359.8H647.1V379.8H615.1zM791.1 359.8H823.1V379.8H791.1zM887.0 359.8H919.0V379.8H887.0zM1126.9 359.8H1158.9V379.8H1126.9zM519.2 379.6H551.2V399.6H519.2zM999.0 379.6H1031.0V399.6H999.0zM967.1 399.5H999.0V419.4H967.1zM183.3 419.3H215.3V439.3H183.3zM391.3 419.3H455.2V439.3H391.3zM519.2 419.3H583.2V439.3H519.2zM1366.9 419.3H1398.8V439.3H1366.9zM1606.8 419.3H1638.8V439.3H1606.8zM215.3 439.1H247.3V459.1H215.3zM455.2 439.1H487.2V459.1H455.2zM583.2 439.1H615.1V459.1H583.2zM727.1 439.1H759.1V459.1H727.1zM1063.0 439.1H1126.9V459.1H1063.0zM1334.9 439.1H1366.9V459.1H1334.9zM247.3 459.0H279.3V479.0H247.3zM311.2 459.0H375.2V479.0H311.2zM519.2 459.0H615.1V479.0H519.2zM855.0 459.0H919.0V479.0H855.0zM935.1 459.0H967.1V479.0H935.1zM1031.0 478.8H1063.0V498.8H1031.0zM279.3 498.7H311.2V518.7H279.3zM423.3 498.7H455.2V518.7H423.3zM551.2 498.7H583.2V518.7H551.2zM855.0 498.7H887.0V518.7H855.0zM1158.9 498.7H1190.9V518.7H1158.9zM695.2 518.5H727.1V538.5H695.2zM1095.0 518.5H1126.9V538.5H1095.0zM1207.0 518.5H1239.0V538.5H1207.0zM1478.9 518.5H1510.9V538.5H1478.9zM311.2 538.4H343.2V558.4H311.2zM855.0 538.4H887.0V558.4H855.0zM1334.9 538.4H1366.9V558.4H1334.9zM1478.9 538.4H1510.9V558.4H1478.9zM1542.8 538.4H1606.8V558.4H1542.8zM1670.8 538.4H1702.7V558.4H1670.8zM119.4 558.2H151.4V578.2H119.4zM247.3 558.2H279.3V578.2H247.3zM727.1 558.2H759.1V578.2H727.1zM791.1 558.2H823.1V578.2H791.1zM1302.9 558.2H1334.9V578.2H1302.9zM1542.8 558.2H1574.8V578.2H1542.8zM1670.8 558.2H1702.7V578.2H1670.8zM1702.7 578.1H1734.7V598.0H1702.7zM759.1 597.9H791.1V617.9H759.1zM791.1 617.7H855.0V637.7H791.1zM1158.9 617.7H1190.9V637.7H1158.9zM1270.9 617.7H1302.9V637.7H1270.9zM1670.8 617.7H1702.7V637.7H1670.8zM455.2 657.4H487.2V677.4H455.2zM183.3 677.3H247.3V697.3H183.3zM1095.0 677.3H1126.9V697.3H1095.0zM1478.9 677.3H1510.9V697.3H1478.9zM1638.8 677.3H1670.8V697.3H1638.8zM1334.9 717.0H1366.9V737.0H1334.9zM1574.8 717.0H1670.8V737.0H1574.8zM1207.0 736.8H1239.0V756.8H1207.0zM1334.9 736.8H1366.9V756.8H1334.9zM967.1 756.7H999.0V776.6H967.1zM663.2 790.4H695.2V810.4H663.2zM1126.9 810.3H1158.9V830.3H1126.9zM151.4 830.2H183.3V850.2H151.4zM343.2 830.2H375.2V850.2H343.2zM695.2 830.2H727.1V850.2H695.2zM855.0 830.2H887.0V850.2H855.0zM999.0 830.2H1031.0V850.2H999.0zM1126.9 830.2H1158.9V850.2H1126.9zM1430.8 830.2H1462.8V850.2H1430.8zM1334.9 850.1H1366.9V870.1H1334.9zM1478.9 850.1H1606.8V870.1H1478.9zM1670.8 850.1H1734.7V870.1H1670.8zM1207.0 869.9H1302.9V890.0H1207.0zM1478.9 869.9H1702.7V890.0H1478.9zM311.2 889.8H375.2V909.9H311.2zM423.3 889.8H519.2V909.9H423.3zM583.2 889.8H615.1V909.9H583.2zM663.2 889.8H695.2V909.9H663.2zM999.0 889.8H1095.0V909.9H999.0zM1158.9 889.8H1190.9V909.9H1158.9zM1478.9 889.8H1510.9V909.9H1478.9zM1606.8 889.8H1670.8V909.9H1606.8zM183.3 909.7H215.3V929.7H183.3zM247.3 909.7H279.3V929.7H247.3zM487.2 909.7H583.2V929.7H487.2zM663.2 909.7H695.2V929.7H663.2zM855.0 909.7H887.0V929.7H855.0zM935.1 909.7H967.1V929.7H935.1zM1478.9 909.7H1510.9V929.7H1478.9zM1542.8 909.7H1574.8V929.7H1542.8zM1606.8 909.7H1638.8V929.7H1606.8zM1670.8 909.7H1734.7V929.7H1670.8zM823.1 929.6H855.0V949.6H823.1zM967.1 929.6H999.0V949.6H967.1zM1606.8 929.6H1638.8V949.6H1606.8zM1702.7 929.6H1734.7V949.6H1702.7zM695.2 969.4H727.1V989.4H695.2zM823.1 969.4H855.0V989.4H823.1zM1239.0 969.4H1270.9V989.4H1239.0zM1478.9 969.4H1510.9V989.4H1478.9zM1606.8 969.4H1670.8V989.4H1606.8zM279.3 989.2H311.2V1009.3H279.3zM183.3 1009.1H215.3V1029.2H183.3zM391.3 1009.1H423.3V1029.2H391.3zM1302.9 1029.0H1334.9V1049.1H1302.9zM1398.8 1029.0H1430.8V1049.1H1398.8zM1542.8 1029.0H1574.8V1049.1H1542.8zM1670.8 1029.0H1702.7V1049.1H1670.8zM183.3 1048.9H247.3V1068.9H183.3zM311.2 1048.9H343.2V1068.9H311.2zM455.2 1048.9H487.2V1068.9H455.2zM583.2 1048.9H615.1V1068.9H583.2zM791.1 1068.8H823.1V1088.8H791.1zM855.0 1068.8H887.0V1088.8H855.0zM1095.0 1068.8H1126.9V1088.8H1095.0zM487.2 1088.7H519.2V1108.7H487.2zM759.1 1088.7H791.1V1108.7H759.1zM1398.8 1088.7H1430.8V1108.7H1398.8zM1606.8 1088.7H1638.8V1108.7H1606.8zM1478.9 1108.6H1510.9V1128.6H1478.9zM1398.8 1128.4H1430.8V1148.5H1398.8zM1478.9 1128.4H1510.9V1148.5H1478.9zM1606.8 1128.4H1638.8V1148.5H1606.8zM663.2 1148.3H727.1V1168.4H663.2zM791.1 1148.3H823.1V1168.4H791.1zM1063.0 1148.3H1095.0V1168.4H1063.0zM1542.8 1148.3H1574.8V1168.4H1542.8zM1702.7 1148.3H1734.7V1168.4H1702.7zM935.1 1168.2H967.1V1188.2H935.1zM1366.9 1168.2H1398.8V1188.2H1366.9zM1478.9 1168.2H1542.8V1188.2H1478.9zM1606.8 1168.2H1670.8V1188.2H1606.8z"/>
<path fill="#ff3e22" shape-rendering="crispEdges" d="M935.1 87.7H967.1V107.7H935.1zM1031.0 87.7H1063.0V107.7H1031.0zM663.2 166.9H855.0V186.9H663.2zM887.0 166.9H919.0V186.9H887.0zM455.2 186.7H519.2V206.7H455.2zM583.2 186.7H647.1V206.7H583.2zM727.1 186.7H791.1V206.7H727.1zM855.0 186.7H887.0V206.7H855.0zM999.0 186.7H1031.0V206.7H999.0zM183.3 206.5H247.3V226.5H183.3zM615.1 206.5H647.1V226.5H615.1zM391.3 240.7H423.3V260.7H391.3zM519.2 240.7H551.2V260.7H519.2zM663.2 240.7H695.2V260.7H663.2zM791.1 240.7H823.1V260.7H791.1zM1031.0 260.5H1063.0V280.5H1031.0zM1207.0 300.2H1239.0V320.2H1207.0zM1334.9 300.2H1366.9V320.2H1334.9zM1207.0 320.1H1239.0V340.1H1207.0zM1478.9 320.1H1510.9V340.1H1478.9zM1638.8 320.1H1670.8V340.1H1638.8zM1302.9 359.8H1334.9V379.8H1302.9zM1398.8 359.8H1430.8V379.8H1398.8zM1239.0 379.6H1366.9V399.6H1239.0zM1430.8 379.6H1462.8V399.6H1430.8zM1478.9 399.5H1638.8V419.4H1478.9zM1670.8 399.5H1734.7V419.4H1670.8zM1270.9 419.3H1302.9V439.3H1270.9zM1398.8 419.3H1430.8V439.3H1398.8zM1207.0 459.0H1270.9V479.0H1207.0zM1334.9 459.0H1462.8V479.0H1334.9zM855.0 478.8H919.0V498.8H855.0zM967.1 518.5H999.0V538.5H967.1zM967.1 538.4H999.0V558.4H967.1zM663.2 617.7H695.2V637.7H663.2zM1207.0 697.1H1270.9V717.1H1207.0zM279.3 717.0H311.2V737.0H279.3zM151.4 736.8H215.3V756.8H151.4zM247.3 736.8H279.3V756.8H247.3zM311.2 736.8H343.2V756.8H311.2zM151.4 756.7H183.3V776.6H151.4zM247.3 756.7H279.3V776.6H247.3zM1270.9 790.4H1302.9V810.4H1270.9zM1478.9 830.2H1542.8V850.2H1478.9zM1574.8 830.2H1606.8V850.2H1574.8zM967.1 889.8H999.0V909.9H967.1zM1063.0 989.2H1095.0V1009.3H1063.0zM887.0 1048.9H919.0V1068.9H887.0zM935.1 1108.6H967.1V1128.6H935.1zM935.1 1128.4H967.1V1148.5H935.1zM1239.0 1128.4H1270.9V1148.5H1239.0zM215.3 1148.3H247.3V1168.4H215.3zM455.2 1148.3H519.2V1168.4H455.2zM583.2 1148.3H647.1V1168.4H583.2zM999.0 1168.2H1031.0V1188.2H999.0z"/>
<path fill="#ff0000" shape-rendering="crispEdges" d="M967.1 87.7H1031.0V107.7H967.1zM1063.0 107.5H1095.0V127.5H1063.0zM935.1 127.3H967.1V147.3H935.1zM823.1 147.1H855.0V167.1H823.1zM855.0 166.9H887.0V186.9H855.0zM887.0 186.7H919.0V206.7H887.0zM1126.9 186.7H1158.9V206.7H1126.9zM343.2 206.5H375.2V226.5H343.2zM935.1 240.7H967.1V260.7H935.1zM1063.0 240.7H1095.0V260.7H1063.0zM1158.9 260.5H1190.9V280.5H1158.9zM1095.0 280.4H1126.9V300.4H1095.0zM935.1 300.2H967.1V320.2H935.1zM1063.0 300.2H1095.0V320.2H1063.0zM1334.9 320.1H1366.9V340.1H1334.9zM1606.8 320.1H1638.8V340.1H1606.8zM823.1 339.9H855.0V359.9H823.1zM1095.0 339.9H1126.9V359.9H1095.0zM1095.0 359.8H1126.9V379.8H1095.0zM1207.0 379.6H1239.0V399.6H1207.0zM1638.8 399.5H1670.8V419.4H1638.8zM1302.9 419.3H1334.9V439.3H1302.9zM1158.9 439.1H1190.9V459.1H1158.9zM1270.9 459.0H1334.9V479.0H1270.9zM727.1 478.8H791.1V498.8H727.1zM967.1 498.7H999.0V518.7H967.1zM999.0 518.5H1063.0V538.5H999.0zM1095.0 538.4H1126.9V558.4H1095.0zM1366.9 558.2H1398.8V578.2H1366.9zM1063.0 578.1H1095.0V598.0H1063.0zM727.1 597.9H759.1V617.9H727.1zM695.2 617.7H727.1V637.7H695.2zM999.0 637.6H1031.0V657.6H999.0zM1126.9 657.4H1158.9V677.4H1126.9zM1126.9 677.3H1158.9V697.3H1126.9zM1510.9 697.1H1542.8V717.1H1510.9zM343.2 717.0H375.2V737.0H343.2zM279.3 736.8H311.2V756.8H279.3zM343.2 736.8H375.2V756.8H343.2zM1031.0 736.8H1063.0V756.8H1031.0zM279.3 756.7H311.2V776.6H279.3zM999.0 790.4H1031.0V810.4H999.0zM1606.8 810.3H1670.8V830.3H1606.8zM1542.8 830.2H1574.8V850.2H1542.8zM1126.9 850.1H1158.9V870.1H1126.9zM967.1 869.9H999.0V890.0H967.1zM1095.0 869.9H1126.9V890.0H1095.0zM1095.0 889.8H1126.9V909.9H1095.0zM823.1 909.7H855.0V929.7H823.1zM1095.0 909.7H1126.9V929.7H1095.0zM1063.0 929.6H1095.0V949.6H1063.0zM1095.0 949.5H1126.9V969.5H1095.0zM935.1 969.4H967.1V989.4H935.1zM935.1 989.2H967.1V1009.3H935.1zM1031.0 1009.1H1063.0V1029.2H1031.0zM1126.9 1029.0H1158.9V1049.1H1126.9zM1126.9 1048.9H1158.9V1068.9H1126.9zM935.1 1068.8H967.1V1088.8H935.1zM935.1 1088.7H967.1V1108.7H935.1zM1063.0 1108.6H1095.0V1128.6H1063.0zM1207.0 1128.4H1239.0V1148.5H1207.0zM183.3 1148.3H215.3V1168.4H183.3zM1031.0 1168.2H1063.0V1188.2H1031.0z"/>
<path fill="#d7beff" shape-rendering="crispEdges" d="M1063.0 87.7H1095.0V107.7H1063.0zM1478.9 87.7H1510.9V107.7H1478.9zM311.2 107.5H375.2V127.5H311.2zM935.1 107.5H967.1V127.5H935.1zM1031.0 166.9H1063.0V186.9H1031.0zM119.4 186.7H183.3V206.7H119.4zM247.3 186.7H279.3V206.7H247.3zM1478.9 186.7H1510.9V206.7H1478.9zM1638.8 186.7H1670.8V206.7H1638.8zM695.2 240.7H727.1V260.7H695.2zM1366.9 240.7H1398.8V260.7H1366.9zM935.1 260.5H967.1V280.5H935.1zM1063.0 260.5H1095.0V280.5H1063.0zM1398.8 260.5H1430.8V280.5H1398.8zM1207.0 280.4H1239.0V300.4H1207.0zM1270.9 280.4H1302.9V300.4H1270.9zM391.3 300.2H487.2V320.2H391.3zM519.2 300.2H551.2V320.2H519.2zM583.2 300.2H615.1V320.2H583.2zM727.1 300.2H791.1V320.2H727.1zM855.0 300.2H919.0V320.2H855.0zM999.0 300.2H1031.0V320.2H999.0zM1270.9 300.2H1334.9V320.2H1270.9zM727.1 320.1H759.1V340.1H727.1zM1430.8 320.1H1462.8V340.1H1430.8zM215.3 339.9H247.3V359.9H215.3zM1158.9 339.9H1190.9V359.9H1158.9zM1239.0 339.9H1270.9V359.9H1239.0zM1334.9 339.9H1366.9V359.9H1334.9zM1510.9 339.9H1542.8V359.9H1510.9zM183.3 359.8H215.3V379.8H183.3zM247.3 359.8H311.2V379.8H247.3zM343.2 359.8H375.2V379.8H343.2zM455.2 359.8H487.2V379.8H455.2zM727.1 359.8H759.1V379.8H727.1zM343.2 379.6H375.2V399.6H343.2zM423.3 379.6H455.2V399.6H423.3zM551.2 379.6H583.2V399.6H551.2zM935.1 399.5H967.1V419.4H935.1zM999.0 399.5H1031.0V419.4H999.0zM1095.0 399.5H1126.9V419.4H1095.0zM1207.0 419.3H1270.9V439.3H1207.0zM1334.9 419.3H1366.9V439.3H1334.9zM1510.9 419.3H1542.8V439.3H1510.9zM487.2 439.1H519.2V459.1H487.2zM1207.0 439.1H1270.9V459.1H1207.0zM1366.9 439.1H1398.8V459.1H1366.9zM391.3 459.0H519.2V479.0H391.3zM615.1 459.0H647.1V479.0H615.1zM1126.9 459.0H1158.9V479.0H1126.9zM663.2 478.8H727.1V498.8H663.2zM999.0 478.8H1031.0V498.8H999.0zM1606.8 478.8H1638.8V498.8H1606.8zM663.2 498.7H695.2V518.7H663.2zM791.1 498.7H823.1V518.7H791.1zM1063.0 498.7H1095.0V518.7H1063.0zM1510.9 518.5H1606.8V538.5H1510.9zM215.3 538.4H247.3V558.4H215.3zM487.2 538.4H519.2V558.4H487.2zM887.0 538.4H919.0V558.4H887.0zM1302.9 538.4H1334.9V558.4H1302.9zM1430.8 538.4H1462.8V558.4H1430.8zM1510.9 538.4H1542.8V558.4H1510.9zM1606.8 538.4H1670.8V558.4H1606.8zM1702.7 538.4H1734.7V558.4H1702.7zM663.2 558.2H695.2V578.2H663.2zM823.1 558.2H855.0V578.2H823.1zM1270.9 558.2H1302.9V578.2H1270.9zM1398.8 558.2H1430.8V578.2H1398.8zM1478.9 558.2H1542.8V578.2H1478.9zM1702.7 558.2H1734.7V578.2H1702.7zM1334.9 578.1H1366.9V598.0H1334.9zM1031.0 597.9H1063.0V617.9H1031.0zM1334.9 597.9H1366.9V617.9H1334.9zM1574.8 617.7H1606.8V637.7H1574.8zM1702.7 617.7H1734.7V637.7H1702.7zM1239.0 637.6H1270.9V657.6H1239.0zM583.2 657.4H615.1V677.4H583.2zM1270.9 657.4H1302.9V677.4H1270.9zM311.2 677.3H343.2V697.3H311.2zM759.1 677.3H791.1V697.3H759.1zM1398.8 677.3H1430.8V697.3H1398.8zM1542.8 677.3H1638.8V697.3H1542.8zM935.1 697.1H967.1V717.1H935.1zM1542.8 697.1H1574.8V717.1H1542.8zM1542.8 717.0H1574.8V737.0H1542.8zM1702.7 717.0H1734.7V737.0H1702.7zM1239.0 736.8H1270.9V756.8H1239.0zM1398.8 736.8H1430.8V756.8H1398.8zM1478.9 736.8H1574.8V756.8H1478.9zM1606.8 736.8H1670.8V756.8H1606.8zM1095.0 756.7H1126.9V776.6H1095.0zM391.3 790.4H423.3V810.4H391.3zM823.1 790.4H855.0V810.4H823.1zM1638.8 790.4H1670.8V810.4H1638.8zM967.1 810.3H999.0V830.3H967.1zM1095.0 810.3H1126.9V830.3H1095.0zM1158.9 810.3H1190.9V830.3H1158.9zM247.3 830.2H279.3V850.2H247.3zM311.2 830.2H343.2V850.2H311.2zM823.1 830.2H855.0V850.2H823.1zM1334.9 830.2H1366.9V850.2H1334.9zM759.1 850.1H791.1V870.1H759.1zM887.0 850.1H919.0V870.1H887.0zM1606.8 850.1H1670.8V870.1H1606.8zM1158.9 869.9H1190.9V890.0H1158.9zM1366.9 869.9H1398.8V890.0H1366.9zM1430.8 869.9H1462.8V890.0H1430.8zM151.4 889.8H215.3V909.9H151.4zM391.3 889.8H423.3V909.9H391.3zM519.2 889.8H583.2V909.9H519.2zM791.1 889.8H823.1V909.9H791.1zM727.1 909.7H791.1V929.7H727.1zM887.0 909.7H919.0V929.7H887.0zM1031.0 909.7H1063.0V929.7H1031.0zM1158.9 909.7H1190.9V929.7H1158.9zM1398.8 909.7H1462.8V929.7H1398.8zM1510.9 909.7H1542.8V929.7H1510.9zM1574.8 909.7H1606.8V929.7H1574.8zM1158.9 929.6H1190.9V949.6H1158.9zM119.4 969.4H183.3V989.4H119.4zM247.3 969.4H279.3V989.4H247.3zM663.2 969.4H695.2V989.4H663.2zM791.1 969.4H823.1V989.4H791.1zM1207.0 969.4H1239.0V989.4H1207.0zM1334.9 969.4H1398.8V989.4H1334.9zM935.1 1009.1H967.1V1029.2H935.1zM487.2 1048.9H519.2V1068.9H487.2zM615.1 1048.9H647.1V1068.9H615.1zM855.0 1048.9H887.0V1068.9H855.0zM791.1 1088.7H823.1V1108.7H791.1zM1430.8 1088.7H1462.8V1108.7H1430.8zM1478.9 1088.7H1574.8V1108.7H1478.9zM1670.8 1088.7H1702.7V1108.7H1670.8zM1510.9 1108.6H1542.8V1128.6H1510.9zM1638.8 1108.6H1670.8V1128.6H1638.8zM1430.8 1128.4H1462.8V1148.5H1430.8zM1510.9 1128.4H1542.8V1148.5H1510.9zM1702.7 1128.4H1734.7V1148.5H1702.7zM423.3 1148.3H455.2V1168.4H423.3zM519.2 1148.3H583.2V1168.4H519.2zM935.1 1148.3H999.0V1168.4H935.1zM1095.0 1148.3H1126.9V1168.4H1095.0zM1574.8 1148.3H1606.8V1168.4H1574.8zM1670.8 1148.3H1702.7V1168.4H1670.8zM967.1 1168.2H999.0V1188.2H967.1zM1063.0 1168.2H1126.9V1188.2H1063.0z"/>
<path fill="#0000ff" shape-rendering="crispEdges" d="M391.3 107.5H647.1V127.5H391.3zM663.2 107.5H759.1V127.5H663.2zM855.0 107.5H919.0V127.5H855.0zM1207.0 107.5H1462.8V127.5H1207.0zM1478.9 107.5H1734.7V127.5H1478.9zM119.4 127.3H375.2V147.3H119.4zM391.3 127.3H647.1V147.3H391.3zM727.1 127.3H791.1V147.3H727.1zM855.0 127.3H919.0V147.3H855.0zM279.3 166.9H311.2V186.9H279.3zM151.4 399.5H311.2V419.4H151.4zM455.2 399.5H519.2V419.4H455.2zM551.2 399.5H583.2V419.4H551.2zM615.1 399.5H647.1V419.4H615.1zM119.4 478.8H215.3V498.8H119.4zM279.3 478.8H343.2V498.8H279.3zM551.2 478.8H583.2V498.8H551.2zM1207.0 498.7H1239.0V518.7H1207.0zM1270.9 498.7H1366.9V518.7H1270.9zM1398.8 498.7H1462.8V518.7H1398.8zM1478.9 498.7H1734.7V518.7H1478.9zM279.3 518.5H311.2V538.5H279.3zM247.3 578.1H279.3V598.0H247.3zM279.3 617.7H343.2V637.7H279.3zM247.3 637.6H311.2V657.6H247.3zM343.2 637.6H375.2V657.6H343.2zM343.2 657.4H375.2V677.4H343.2zM119.4 697.1H375.2V717.1H119.4zM423.3 697.1H647.1V717.1H423.3zM791.1 697.1H855.0V717.1H791.1zM935.1 717.0H967.1V737.0H935.1zM1542.8 756.7H1574.8V776.6H1542.8zM1638.8 756.7H1670.8V776.6H1638.8zM119.4 810.3H215.3V830.3H119.4zM247.3 810.3H311.2V830.3H247.3zM343.2 810.3H375.2V830.3H343.2zM455.2 810.3H487.2V830.3H455.2zM343.2 850.1H375.2V870.1H343.2zM119.4 869.9H311.2V890.0H119.4zM343.2 869.9H375.2V890.0H343.2zM391.3 869.9H647.1V890.0H391.3zM663.2 869.9H759.1V890.0H663.2zM823.1 869.9H919.0V890.0H823.1zM343.2 929.6H375.2V949.6H343.2zM119.4 949.5H375.2V969.5H119.4zM391.3 949.5H551.2V969.5H391.3zM583.2 949.5H647.1V969.5H583.2zM663.2 949.5H695.2V969.5H663.2zM727.1 949.5H791.1V969.5H727.1zM855.0 949.5H919.0V969.5H855.0zM935.1 949.5H967.1V969.5H935.1zM1031.0 949.5H1063.0V969.5H1031.0zM1126.9 949.5H1158.9V969.5H1126.9zM1207.0 949.5H1462.8V969.5H1207.0zM1478.9 949.5H1734.7V969.5H1478.9zM1207.0 989.2H1239.0V1009.3H1207.0zM1334.9 989.2H1462.8V1009.3H1334.9zM247.3 1009.1H279.3V1029.2H247.3zM311.2 1009.1H375.2V1029.2H311.2zM1095.0 1009.1H1126.9V1029.2H1095.0zM1334.9 1009.1H1398.8V1029.2H1334.9zM1478.9 1009.1H1542.8V1029.2H1478.9zM1574.8 1009.1H1734.7V1029.2H1574.8zM119.4 1029.0H151.4V1049.1H119.4zM183.3 1029.0H247.3V1049.1H183.3zM279.3 1029.0H375.2V1049.1H279.3zM391.3 1029.0H423.3V1049.1H391.3zM487.2 1029.0H519.2V1049.1H487.2zM551.2 1029.0H615.1V1049.1H551.2zM759.1 1029.0H791.1V1049.1H759.1zM887.0 1029.0H919.0V1049.1H887.0zM1606.8 1048.9H1670.8V1068.9H1606.8zM279.3 1108.6H311.2V1128.6H279.3zM119.4 1128.4H151.4V1148.5H119.4zM343.2 1128.4H375.2V1148.5H343.2zM391.3 1128.4H455.2V1148.5H391.3zM551.2 1128.4H583.2V1148.5H551.2zM615.1 1128.4H647.1V1148.5H615.1zM887.0 1128.4H919.0V1148.5H887.0z"/>
<rect x="134.7" y="1190.0" width="1.4" height="4.6" fill="#333"/>
<text transform="translate(142.8,1199.6) rotate(-90.0)" font-size="20.6" font-weight="bold" text-anchor="end" fill="#1a1a1a">T4a</text>
<rect x="166.7" y="1190.0" width="1.4" height="4.6" fill="#333"/>
<text transform="translate(174.8,1199.6) rotate(-90.0)" font-size="20.6" font-weight="bold" text-anchor="end" fill="#1a1a1a">T4b</text>
<rect x="198.6" y="1190.0" width="1.4" height="4.6" fill="#333"/>
<text transform="translate(206.7,1199.6) rotate(-90.0)" font-size="20.6" font-weight="bold" text-anchor="end" fill="#1a1a1a">T4c</text>
<rect x="230.6" y="1190.0" width="1.4" height="4.6" fill="#333"/>
<text transform="translate(238.7,1199.6) rotate(-90.0)" font-size="20.6" font-weight="bold" text-anchor="end" fill="#1a1a1a">T4d</text>
<rect x="262.6" y="1190.0" width="1.4" height="4.6" fill="#333"/>
<text transform="translate(270.7,1199.6) rotate(-90.0)" font-size="20.6" font-weight="bold" text-anchor="end" fill="#1a1a1a">T5a</text>
<rect x="294.6" y="1190.0" width="1.4" height="4.6" fill="#333"/>
<text transform="translate(302.7,1199.6) rotate(-90.0)" font-size="20.6" font-weight="bold" text-anchor="end" fill="#1a1a1a">T5b</text>
<rect x="326.5" y="1190.0" width="1.4" height="4.6" fill="#333"/>
<text transform="translate(334.6,1199.6) rotate(-90.0)" font-size="20.6" font-weight="bold" text-anchor="end" fill="#1a1a1a">T5c</text>
<rect x="358.5" y="1190.0" width="1.4" height="4.6" fill="#333"/>
<text transform="translate(366.6,1199.6) rotate(-90.0)" font-size="20.6" font-weight="bold" text-anchor="end" fill="#1a1a1a">T5d</text>
<rect x="406.6" y="1190.0" width="1.4" height="4.6" fill="#333"/>
<text transform="translate(414.7,1199.6) rotate(-90.0)" font-size="20.6" font-weight="bold" text-anchor="end" fill="#1a1a1a">T4a</text>
<rect x="438.6" y="1190.0" width="1.4" height="4.6" fill="#333"/>
<text transform="translate(446.7,1199.6) rotate(-90.0)" font-size="20.6" font-weight="bold" text-anchor="end" fill="#1a1a1a">T4b</text>
<rect x="470.5" y="1190.0" width="1.4" height="4.6" fill="#333"/>
<text transform="translate(478.6,1199.6) rotate(-90.0)" font-size="20.6" font-weight="bold" text-anchor="end" fill="#1a1a1a">T4c</text>
<rect x="502.5" y="1190.0" width="1.4" height="4.6" fill="#333"/>
<text transform="translate(510.6,1199.6) rotate(-90.0)" font-size="20.6" font-weight="bold" text-anchor="end" fill="#1a1a1a">T4d</text>
<rect x="534.5" y="1190.0" width="1.4" height="4.6" fill="#333"/>
<text transform="translate(542.6,1199.6) rotate(-90.0)" font-size="20.6" font-weight="bold" text-anchor="end" fill="#1a1a1a">T5a</text>
<rect x="566.5" y="1190.0" width="1.4" height="4.6" fill="#333"/>
<text transform="translate(574.6,1199.6) rotate(-90.0)" font-size="20.6" font-weight="bold" text-anchor="end" fill="#1a1a1a">T5b</text>
<rect x="598.4" y="1190.0" width="1.4" height="4.6" fill="#333"/>
<text transform="translate(606.5,1199.6) rotate(-90.0)" font-size="20.6" font-weight="bold" text-anchor="end" fill="#1a1a1a">T5c</text>
<rect x="630.4" y="1190.0" width="1.4" height="4.6" fill="#333"/>
<text transform="translate(638.5,1199.6) rotate(-90.0)" font-size="20.6" font-weight="bold" text-anchor="end" fill="#1a1a1a">T5d</text>
<rect x="678.5" y="1190.0" width="1.4" height="4.6" fill="#333"/>
<text transform="translate(686.6,1199.6) rotate(-90.0)" font-size="20.6" font-weight="bold" text-anchor="end" fill="#1a1a1a">T4a</text>
<rect x="710.5" y="1190.0" width="1.4" height="4.6" fill="#333"/>
<text transform="translate(718.6,1199.6) rotate(-90.0)" font-size="20.6" font-weight="bold" text-anchor="end" fill="#1a1a1a">T4b</text>
<rect x="742.4" y="1190.0" width="1.4" height="4.6" fill="#333"/>
<text transform="translate(750.5,1199.6) rotate(-90.0)" font-size="20.6" font-weight="bold" text-anchor="end" fill="#1a1a1a">T4c</text>
<rect x="774.4" y="1190.0" width="1.4" height="4.6" fill="#333"/>
<text transform="translate(782.5,1199.6) rotate(-90.0)" font-size="20.6" font-weight="bold" text-anchor="end" fill="#1a1a1a">T4d</text>
<rect x="806.4" y="1190.0" width="1.4" height="4.6" fill="#333"/>
<text transform="translate(814.5,1199.6) rotate(-90.0)" font-size="20.6" font-weight="bold" text-anchor="end" fill="#1a1a1a">T5a</text>
<rect x="838.4" y="1190.0" width="1.4" height="4.6" fill="#333"/>
<text transform="translate(846.5,1199.6) rotate(-90.0)" font-size="20.6" font-weight="bold" text-anchor="end" fill="#1a1a1a">T5b</text>
<rect x="870.3" y="1190.0" width="1.4" height="4.6" fill="#333"/>
<text transform="translate(878.4,1199.6) rotate(-90.0)" font-size="20.6" font-weight="bold" text-anchor="end" fill="#1a1a1a">T5c</text>
<rect x="902.3" y="1190.0" width="1.4" height="4.6" fill="#333"/>
<text transform="translate(910.4,1199.6) rotate(-90.0)" font-size="20.6" font-weight="bold" text-anchor="end" fill="#1a1a1a">T5d</text>
<rect x="950.4" y="1190.0" width="1.4" height="4.6" fill="#333"/>
<text transform="translate(958.5,1199.6) rotate(-90.0)" font-size="20.6" font-weight="bold" text-anchor="end" fill="#1a1a1a">T4a</text>
<rect x="982.4" y="1190.0" width="1.4" height="4.6" fill="#333"/>
<text transform="translate(990.5,1199.6) rotate(-90.0)" font-size="20.6" font-weight="bold" text-anchor="end" fill="#1a1a1a">T4b</text>
<rect x="1014.3" y="1190.0" width="1.4" height="4.6" fill="#333"/>
<text transform="translate(1022.4,1199.6) rotate(-90.0)" font-size="20.6" font-weight="bold" text-anchor="end" fill="#1a1a1a">T4c</text>
<rect x="1046.3" y="1190.0" width="1.4" height="4.6" fill="#333"/>
<text transform="translate(1054.4,1199.6) rotate(-90.0)" font-size="20.6" font-weight="bold" text-anchor="end" fill="#1a1a1a">T4d</text>
<rect x="1078.3" y="1190.0" width="1.4" height="4.6" fill="#333"/>
<text transform="translate(1086.4,1199.6) rotate(-90.0)" font-size="20.6" font-weight="bold" text-anchor="end" fill="#1a1a1a">T5a</text>
<rect x="1110.3" y="1190.0" width="1.4" height="4.6" fill="#333"/>
<text transform="translate(1118.4,1199.6) rotate(-90.0)" font-size="20.6" font-weight="bold" text-anchor="end" fill="#1a1a1a">T5b</text>
<rect x="1142.2" y="1190.0" width="1.4" height="4.6" fill="#333"/>
<text transform="translate(1150.3,1199.6) rotate(-90.0)" font-size="20.6" font-weight="bold" text-anchor="end" fill="#1a1a1a">T5c</text>
<rect x="1174.2" y="1190.0" width="1.4" height="4.6" fill="#333"/>
<text transform="translate(1182.3,1199.6) rotate(-90.0)" font-size="20.6" font-weight="bold" text-anchor="end" fill="#1a1a1a">T5d</text>
<rect x="1222.3" y="1190.0" width="1.4" height="4.6" fill="#333"/>
<text transform="translate(1230.4,1199.6) rotate(-90.0)" font-size="20.6" font-weight="bold" text-anchor="end" fill="#1a1a1a">T4a</text>
<rect x="1254.3" y="1190.0" width="1.4" height="4.6" fill="#333"/>
<text transform="translate(1262.4,1199.6) rotate(-90.0)" font-size="20.6" font-weight="bold" text-anchor="end" fill="#1a1a1a">T4b</text>
<rect x="1286.2" y="1190.0" width="1.4" height="4.6" fill="#333"/>
<text transform="translate(1294.3,1199.6) rotate(-90.0)" font-size="20.6" font-weight="bold" text-anchor="end" fill="#1a1a1a">T4c</text>
<rect x="1318.2" y="1190.0" width="1.4" height="4.6" fill="#333"/>
<text transform="translate(1326.3,1199.6) rotate(-90.0)" font-size="20.6" font-weight="bold" text-anchor="end" fill="#1a1a1a">T4d</text>
<rect x="1350.2" y="1190.0" width="1.4" height="4.6" fill="#333"/>
<text transform="translate(1358.3,1199.6) rotate(-90.0)" font-size="20.6" font-weight="bold" text-anchor="end" fill="#1a1a1a">T5a</text>
<rect x="1382.2" y="1190.0" width="1.4" height="4.6" fill="#333"/>
<text transform="translate(1390.3,1199.6) rotate(-90.0)" font-size="20.6" font-weight="bold" text-anchor="end" fill="#1a1a1a">T5b</text>
<rect x="1414.1" y="1190.0" width="1.4" height="4.6" fill="#333"/>
<text transform="translate(1422.2,1199.6) rotate(-90.0)" font-size="20.6" font-weight="bold" text-anchor="end" fill="#1a1a1a">T5c</text>
<rect x="1446.1" y="1190.0" width="1.4" height="4.6" fill="#333"/>
<text transform="translate(1454.2,1199.6) rotate(-90.0)" font-size="20.6" font-weight="bold" text-anchor="end" fill="#1a1a1a">T5d</text>
<rect x="1494.2" y="1190.0" width="1.4" height="4.6" fill="#333"/>
<text transform="translate(1502.3,1199.6) rotate(-90.0)" font-size="20.6" font-weight="bold" text-anchor="end" fill="#1a1a1a">T4a</text>
<rect x="1526.2" y="1190.0" width="1.4" height="4.6" fill="#333"/>
<text transform="translate(1534.3,1199.6) rotate(-90.0)" font-size="20.6" font-weight="bold" text-anchor="end" fill="#1a1a1a">T4b</text>
<rect x="1558.1" y="1190.0" width="1.4" height="4.6" fill="#333"/>
<text transform="translate(1566.2,1199.6) rotate(-90.0)" font-size="20.6" font-weight="bold" text-anchor="end" fill="#1a1a1a">T4c</text>
<rect x="1590.1" y="1190.0" width="1.4" height="4.6" fill="#333"/>
<text transform="translate(1598.2,1199.6) rotate(-90.0)" font-size="20.6" font-weight="bold" text-anchor="end" fill="#1a1a1a">T4d</text>
<rect x="1622.1" y="1190.0" width="1.4" height="4.6" fill="#333"/>
<text transform="translate(1630.2,1199.6) rotate(-90.0)" font-size="20.6" font-weight="bold" text-anchor="end" fill="#1a1a1a">T5a</text>
<rect x="1654.1" y="1190.0" width="1.4" height="4.6" fill="#333"/>
<text transform="translate(1662.2,1199.6) rotate(-90.0)" font-size="20.6" font-weight="bold" text-anchor="end" fill="#1a1a1a">T5b</text>
<rect x="1686.0" y="1190.0" width="1.4" height="4.6" fill="#333"/>
<text transform="translate(1694.1,1199.6) rotate(-90.0)" font-size="20.6" font-weight="bold" text-anchor="end" fill="#1a1a1a">T5c</text>
<rect x="1718.0" y="1190.0" width="1.4" height="4.6" fill="#333"/>
<text transform="translate(1726.1,1199.6) rotate(-90.0)" font-size="20.6" font-weight="bold" text-anchor="end" fill="#1a1a1a">T5d</text>
<defs><linearGradient id="lg" x1="0" y1="1" x2="0" y2="0"><stop offset="0.00" stop-color="#0000ff"/><stop offset="0.05" stop-color="#502bff"/><stop offset="0.10" stop-color="#7145ff"/><stop offset="0.15" stop-color="#8a5dff"/><stop offset="0.20" stop-color="#a074ff"/><stop offset="0.25" stop-color="#b38bff"/><stop offset="0.30" stop-color="#c4a2ff"/><stop offset="0.35" stop-color="#d4b9ff"/><stop offset="0.40" stop-color="#e3d0ff"/><stop offset="0.45" stop-color="#f2e7ff"/><stop offset="0.50" stop-color="#ffffff"/><stop offset="0.55" stop-color="#ffece5"/><stop offset="0.60" stop-color="#ffd9cb"/><stop offset="0.65" stop-color="#ffc6b2"/><stop offset="0.70" stop-color="#ffb299"/><stop offset="0.75" stop-color="#ff9e81"/><stop offset="0.80" stop-color="#ff8969"/><stop offset="0.85" stop-color="#ff7352"/><stop offset="0.90" stop-color="#ff5b3a"/><stop offset="0.95" stop-color="#ff3e22"/><stop offset="1.00" stop-color="#ff0000"/></linearGradient></defs>
<rect x="1801.5" y="576.5" width="30.7" height="151" fill="url(#lg)"/>
<text x="1841.4" y="580.8" font-size="15.3" fill="#111">1.00</text>
<rect x="1801.5" y="576.5" width="6" height="1" fill="#fff" opacity="0.8"/><rect x="1826.2" y="576.5" width="6" height="1" fill="#fff" opacity="0.8"/>
<text x="1841.4" y="618.4" font-size="15.3" fill="#111">0.75</text>
<rect x="1801.5" y="614.1" width="6" height="1" fill="#fff" opacity="0.8"/><rect x="1826.2" y="614.1" width="6" height="1" fill="#fff" opacity="0.8"/>
<text x="1841.4" y="656.1" font-size="15.3" fill="#111">0.50</text>
<rect x="1801.5" y="651.8" width="6" height="1" fill="#fff" opacity="0.8"/><rect x="1826.2" y="651.8" width="6" height="1" fill="#fff" opacity="0.8"/>
<text x="1841.4" y="693.8" font-size="15.3" fill="#111">0.25</text>
<rect x="1801.5" y="689.5" width="6" height="1" fill="#fff" opacity="0.8"/><rect x="1826.2" y="689.5" width="6" height="1" fill="#fff" opacity="0.8"/>
<text x="1841.4" y="731.4" font-size="15.3" fill="#111">0.00</text>
<rect x="1801.5" y="727.1" width="6" height="1" fill="#fff" opacity="0.8"/><rect x="1826.2" y="727.1" width="6" height="1" fill="#fff" opacity="0.8"/>
<text x="1826.0" y="540.5" font-size="19" font-weight="bold" text-anchor="middle" fill="#111">Scaled</text>
<text x="1828.8" y="564.0" font-size="19.1" font-weight="bold" text-anchor="middle" fill="#111">Expression</text>
<text x="38.0" y="41.4" font-size="64.5" font-weight="bold" fill="#1a1a1a">a</text>
<text x="37.0" y="1307.6" font-size="64.5" font-weight="bold" fill="#1a1a1a">b</text>
<text x="38.4" y="1990.8" font-size="64.5" font-weight="bold" fill="#1a1a1a">c</text>
<text x="958.3" y="1323.0" font-size="64.5" font-weight="bold" fill="#1a1a1a">d</text>
<text x="841.3" y="1912.3" font-size="64.5" font-weight="bold" fill="#1a1a1a">e</text>
<path d="M458.0 1426.0A236 236 0 0 1 517.5 1433.6L510.2 1461.7A207 207 0 0 0 458.0 1455.0z" fill="#ff0a8c" stroke="#ffc2e2" stroke-width="1.6" stroke-linejoin="round"/>
<path d="M517.5 1433.6A236 236 0 0 1 572.8 1455.8L558.7 1481.1A207 207 0 0 0 510.2 1461.7z" fill="#ff0f8e" stroke="#ffc3e3" stroke-width="1.6" stroke-linejoin="round"/>
<path d="M572.8 1455.8A236 236 0 0 1 615.6 1486.3L596.2 1507.9A207 207 0 0 0 558.7 1481.1z" fill="#ff1c95" stroke="#ffc6e4" stroke-width="1.6" stroke-linejoin="round"/>
<path d="M615.6 1486.3A236 236 0 0 1 644.0 1516.7L621.1 1534.6A207 207 0 0 0 596.2 1507.9z" fill="#ff299b" stroke="#ffcae6" stroke-width="1.6" stroke-linejoin="round"/>
<path d="M644.0 1516.7A236 236 0 0 1 666.6 1551.6L640.9 1565.1A207 207 0 0 0 621.1 1534.6z" fill="#ff36a1" stroke="#ffcde8" stroke-width="1.6" stroke-linejoin="round"/>
<path d="M666.6 1551.6A236 236 0 0 1 678.6 1578.2L651.5 1588.5A207 207 0 0 0 640.9 1565.1z" fill="#ff42a6" stroke="#ffd0e9" stroke-width="1.6" stroke-linejoin="round"/>
<path d="M678.6 1578.2A236 236 0 0 1 687.1 1605.3L658.9 1612.3A207 207 0 0 0 651.5 1588.5z" fill="#ff4cab" stroke="#ffd2ea" stroke-width="1.6" stroke-linejoin="round"/>
<path d="M687.1 1605.3A236 236 0 0 1 691.9 1630.8L663.2 1634.6A207 207 0 0 0 658.9 1612.3z" fill="#ff55b0" stroke="#ffd4eb" stroke-width="1.6" stroke-linejoin="round"/>
<path d="M691.9 1630.8A236 236 0 0 1 693.8 1652.5L664.8 1653.7A207 207 0 0 0 663.2 1634.6z" fill="#ff5eb4" stroke="#ffd7ec" stroke-width="1.6" stroke-linejoin="round"/>
<path d="M693.8 1652.5A236 236 0 0 1 693.9 1669.0L664.9 1668.1A207 207 0 0 0 664.8 1653.7z" fill="#ff65b7" stroke="#ffd8ed" stroke-width="1.6" stroke-linejoin="round"/>
<path d="M693.9 1669.0A236 236 0 0 1 692.7 1687.1L663.8 1684.0A207 207 0 0 0 664.9 1668.1z" fill="#ff6bba" stroke="#ffdaee" stroke-width="1.6" stroke-linejoin="round"/>
<path d="M692.7 1687.1A236 236 0 0 1 690.3 1703.8L661.7 1698.7A207 207 0 0 0 663.8 1684.0z" fill="#ff72bd" stroke="#ffdcee" stroke-width="1.6" stroke-linejoin="round"/>
<path d="M690.3 1703.8A236 236 0 0 1 686.8 1719.9L658.7 1712.8A207 207 0 0 0 661.7 1698.7z" fill="#ff78c0" stroke="#ffddef" stroke-width="1.6" stroke-linejoin="round"/>
<path d="M686.8 1719.9A236 236 0 0 1 682.4 1734.9L654.9 1726.0A207 207 0 0 0 658.7 1712.8z" fill="#ff7ec3" stroke="#ffdff0" stroke-width="1.6" stroke-linejoin="round"/>
<path d="M682.4 1734.9A236 236 0 0 1 677.1 1749.6L650.2 1738.9A207 207 0 0 0 654.9 1726.0z" fill="#ff84c6" stroke="#ffe0f1" stroke-width="1.6" stroke-linejoin="round"/>
<path d="M677.1 1749.6A236 236 0 0 1 671.5 1762.5L645.3 1750.1A207 207 0 0 0 650.2 1738.9z" fill="#ff8ac9" stroke="#ffe2f2" stroke-width="1.6" stroke-linejoin="round"/>
<path d="M671.5 1762.5A236 236 0 0 1 665.2 1775.0L639.7 1761.1A207 207 0 0 0 645.3 1750.1z" fill="#ff90cb" stroke="#ffe3f2" stroke-width="1.6" stroke-linejoin="round"/>
<path d="M665.2 1775.0A236 236 0 0 1 658.6 1786.4L633.9 1771.1A207 207 0 0 0 639.7 1761.1z" fill="#ff95ce" stroke="#ffe4f3" stroke-width="1.6" stroke-linejoin="round"/>
<path d="M658.6 1786.4A236 236 0 0 1 651.8 1796.7L628.0 1780.1A207 207 0 0 0 633.9 1771.1z" fill="#ff9ad0" stroke="#ffe6f3" stroke-width="1.6" stroke-linejoin="round"/>
<path d="M651.8 1796.7A236 236 0 0 1 645.0 1806.0L622.0 1788.3A207 207 0 0 0 628.0 1780.1z" fill="#ff9fd3" stroke="#ffe7f4" stroke-width="1.6" stroke-linejoin="round"/>
<path d="M645.0 1806.0A236 236 0 0 1 638.3 1814.3L616.1 1795.6A207 207 0 0 0 622.0 1788.3z" fill="#ffa4d5" stroke="#ffe8f4" stroke-width="1.6" stroke-linejoin="round"/>
<path d="M638.3 1814.3A236 236 0 0 1 632.0 1821.4L610.6 1801.8A207 207 0 0 0 616.1 1795.6z" fill="#ffa8d7" stroke="#ffe9f5" stroke-width="1.6" stroke-linejoin="round"/>
<path d="M632.0 1821.4A236 236 0 0 1 625.5 1828.3L604.9 1807.9A207 207 0 0 0 610.6 1801.8z" fill="#ffacd9" stroke="#ffeaf6" stroke-width="1.6" stroke-linejoin="round"/>
<path d="M625.5 1828.3A236 236 0 0 1 619.6 1834.0L599.7 1812.9A207 207 0 0 0 604.9 1807.9z" fill="#ffafda" stroke="#ffebf6" stroke-width="1.6" stroke-linejoin="round"/>
<path d="M619.6 1834.0A236 236 0 0 1 614.1 1839.0L594.9 1817.3A207 207 0 0 0 599.7 1812.9z" fill="#ffb3dc" stroke="#ffecf6" stroke-width="1.6" stroke-linejoin="round"/>
<path d="M614.1 1839.0A236 236 0 0 1 445.6 1897.7L447.2 1868.7A207 207 0 0 0 594.9 1817.3z" fill="#ffd2ea" stroke="#fff4fa" stroke-width="1.6" stroke-linejoin="round"/>
<path d="M445.6 1897.7A236 236 0 0 1 381.2 1885.1L390.6 1857.7A207 207 0 0 0 447.2 1868.7z" fill="#9db8e8" stroke="#fff" stroke-width="1.6" stroke-linejoin="round"/>
<path d="M381.2 1885.1A236 236 0 0 1 342.9 1868.0L357.0 1842.7A207 207 0 0 0 390.6 1857.7z" fill="#a6bfea" stroke="#fff" stroke-width="1.6" stroke-linejoin="round"/>
<path d="M342.9 1868.0A236 236 0 0 1 311.7 1847.2L329.7 1824.4A207 207 0 0 0 357.0 1842.7z" fill="#afc6ec" stroke="#fff" stroke-width="1.6" stroke-linejoin="round"/>
<path d="M311.7 1847.2A236 236 0 0 1 286.2 1823.9L307.4 1804.0A207 207 0 0 0 329.7 1824.4z" fill="#b8cdef" stroke="#fff" stroke-width="1.6" stroke-linejoin="round"/>
<path d="M286.2 1823.9A236 236 0 0 1 271.3 1806.3L294.2 1788.6A207 207 0 0 0 307.4 1804.0z" fill="#c0d2f1" stroke="#fff" stroke-width="1.6" stroke-linejoin="round"/>
<path d="M271.3 1806.3A236 236 0 0 1 259.8 1790.2L284.2 1774.4A207 207 0 0 0 294.2 1788.6z" fill="#c8d8f3" stroke="#fff" stroke-width="1.6" stroke-linejoin="round"/>
<path d="M259.8 1790.2A236 236 0 0 1 235.8 1741.6L263.1 1731.8A207 207 0 0 0 284.2 1774.4z" fill="#d6e2f6" stroke="#fff" stroke-width="1.6" stroke-linejoin="round"/>
<path d="M235.8 1741.6A236 236 0 0 1 229.7 1721.9L257.8 1714.5A207 207 0 0 0 263.1 1731.8z" fill="#dc52ec" stroke="#fff" stroke-width="1.6" stroke-linejoin="round"/>
<path d="M229.7 1721.9A236 236 0 0 1 227.0 1710.3L255.4 1704.3A207 207 0 0 0 257.8 1714.5z" fill="#e066ee" stroke="#fff" stroke-width="1.6" stroke-linejoin="round"/>
<path d="M227.0 1710.3A236 236 0 0 1 222.1 1669.4L251.1 1668.5A207 207 0 0 0 255.4 1704.3z" fill="#e78cf2" stroke="#fff" stroke-width="1.6" stroke-linejoin="round"/>
<path d="M222.1 1669.4A236 236 0 0 1 229.7 1602.1L257.8 1609.5A207 207 0 0 0 251.1 1668.5z" fill="#06795b" stroke="#fff" stroke-width="1.6" stroke-linejoin="round"/>
<path d="M229.7 1602.1A236 236 0 0 1 246.6 1557.1L272.6 1570.0A207 207 0 0 0 257.8 1609.5z" fill="#a83263" stroke="#fff" stroke-width="1.6" stroke-linejoin="round"/>
<path d="M246.6 1557.1A236 236 0 0 1 270.0 1519.3L293.1 1536.8A207 207 0 0 0 272.6 1570.0z" fill="#e8b08c" stroke="#fff" stroke-width="1.6" stroke-linejoin="round"/>
<path d="M270.0 1519.3A236 236 0 0 1 299.2 1487.4L318.7 1508.9A207 207 0 0 0 293.1 1536.8z" fill="#3b2a98" stroke="#fff" stroke-width="1.6" stroke-linejoin="round"/>
<path d="M299.2 1487.4A236 236 0 0 1 334.7 1460.8L349.8 1485.5A207 207 0 0 0 318.7 1508.9z" fill="#cb98ee" stroke="#fff" stroke-width="1.6" stroke-linejoin="round"/>
<path d="M334.7 1460.8A236 236 0 0 1 372.3 1442.1L382.8 1469.1A207 207 0 0 0 349.8 1485.5z" fill="#22506c" stroke="#fff" stroke-width="1.6" stroke-linejoin="round"/>
<path d="M372.3 1442.1A236 236 0 0 1 405.3 1432.0L411.8 1460.2A207 207 0 0 0 382.8 1469.1z" fill="#a5c84f" stroke="#fff" stroke-width="1.6" stroke-linejoin="round"/>
<path d="M405.3 1432.0A236 236 0 0 1 437.8 1426.9L440.3 1455.8A207 207 0 0 0 411.8 1460.2z" fill="#963008" stroke="#fff" stroke-width="1.6" stroke-linejoin="round"/>
<path d="M437.8 1426.9A236 236 0 0 1 458.0 1426.0L458.0 1455.0A207 207 0 0 0 440.3 1455.8z" fill="#18c0a3" stroke="#fff" stroke-width="1.6" stroke-linejoin="round"/>
<path d="M458.0 1662.0L458.0 1455.0A207 207 0 1 1 447.2 1868.7z" fill="#ff0a8c" stroke="#fff" stroke-width="1.8" stroke-linejoin="round"/>
<path d="M458.0 1662.0L447.2 1868.7A207 207 0 0 1 263.1 1731.8z" fill="#9db8e8" stroke="#fff" stroke-width="1.8" stroke-linejoin="round"/>
<path d="M458.0 1662.0L263.1 1731.8A207 207 0 0 1 251.1 1668.5z" fill="#dc52ec" stroke="#fff" stroke-width="1.8" stroke-linejoin="round"/>
<path d="M458.0 1662.0L251.1 1668.5A207 207 0 0 1 257.8 1609.5z" fill="#06795b" stroke="#fff" stroke-width="1.8" stroke-linejoin="round"/>
<path d="M458.0 1662.0L257.8 1609.5A207 207 0 0 1 272.6 1570.0z" fill="#a83263" stroke="#fff" stroke-width="1.8" stroke-linejoin="round"/>
<path d="M458.0 1662.0L272.6 1570.0A207 207 0 0 1 293.1 1536.8z" fill="#e8b08c" stroke="#fff" stroke-width="1.8" stroke-linejoin="round"/>
<path d="M458.0 1662.0L293.1 1536.8A207 207 0 0 1 318.7 1508.9z" fill="#3b2a98" stroke="#fff" stroke-width="1.8" stroke-linejoin="round"/>
<path d="M458.0 1662.0L318.7 1508.9A207 207 0 0 1 349.8 1485.5z" fill="#cb98ee" stroke="#fff" stroke-width="1.8" stroke-linejoin="round"/>
<path d="M458.0 1662.0L349.8 1485.5A207 207 0 0 1 382.8 1469.1z" fill="#22506c" stroke="#fff" stroke-width="1.8" stroke-linejoin="round"/>
<path d="M458.0 1662.0L382.8 1469.1A207 207 0 0 1 411.8 1460.2z" fill="#a5c84f" stroke="#fff" stroke-width="1.8" stroke-linejoin="round"/>
<path d="M458.0 1662.0L411.8 1460.2A207 207 0 0 1 440.3 1455.8z" fill="#963008" stroke="#fff" stroke-width="1.8" stroke-linejoin="round"/>
<path d="M458.0 1662.0L440.3 1455.8A207 207 0 0 1 458.0 1455.0z" fill="#18c0a3" stroke="#fff" stroke-width="1.8" stroke-linejoin="round"/>
<circle cx="458" cy="1662" r="207" fill="none" stroke="#fff" stroke-width="2" opacity="0.92"/>
<text transform="translate(566.0,1643.3) rotate(2.7)" font-size="20.7" font-weight="bold" text-anchor="middle" fill="#ffe6f4">axon development</text>
<text x="378.0" y="1754.0" font-size="20.6" font-weight="bold" text-anchor="middle" fill="#eef3fc">taxis</text>
<text transform="translate(622.0,1672.3) rotate(3.0)" font-size="14.3" font-weight="bold" font-style="italic" text-anchor="middle" fill="#333" stroke="#333" stroke-width="2.2" stroke-linejoin="round" opacity="0.45" dy="0.35em">GO 1</text>
<text transform="translate(621.0,1671.0) rotate(3.0)" font-size="14.3" font-weight="bold" font-style="italic" text-anchor="middle" fill="#fff" stroke="#2a2a2a" stroke-width="2.0" stroke-linejoin="round" paint-order="stroke" dy="0.35em">GO 1</text>
<text transform="translate(358.0,1795.3) rotate(-52.0)" font-size="14.3" font-weight="bold" font-style="italic" text-anchor="middle" fill="#333" stroke="#333" stroke-width="2.2" stroke-linejoin="round" opacity="0.45" dy="0.35em">GO 2</text>
<text transform="translate(357.0,1794.0) rotate(-52.0)" font-size="14.3" font-weight="bold" font-style="italic" text-anchor="middle" fill="#fff" stroke="#2a2a2a" stroke-width="2.0" stroke-linejoin="round" paint-order="stroke" dy="0.35em">GO 2</text>
<text transform="translate(299.5,1699.3) rotate(-10.0)" font-size="14.3" font-weight="bold" font-style="italic" text-anchor="middle" fill="#333" stroke="#333" stroke-width="2.2" stroke-linejoin="round" opacity="0.45" dy="0.35em">GO 3</text>
<text transform="translate(298.5,1698.0) rotate(-10.0)" font-size="14.3" font-weight="bold" font-style="italic" text-anchor="middle" fill="#fff" stroke="#2a2a2a" stroke-width="2.0" stroke-linejoin="round" paint-order="stroke" dy="0.35em">GO 3</text>
<text transform="translate(298.0,1636.3) rotate(8.0)" font-size="14.3" font-weight="bold" font-style="italic" text-anchor="middle" fill="#333" stroke="#333" stroke-width="2.2" stroke-linejoin="round" opacity="0.45" dy="0.35em">GO 4</text>
<text transform="translate(297.0,1635.0) rotate(8.0)" font-size="14.3" font-weight="bold" font-style="italic" text-anchor="middle" fill="#fff" stroke="#2a2a2a" stroke-width="2.0" stroke-linejoin="round" paint-order="stroke" dy="0.35em">GO 4</text>
<text transform="translate(306.0,1598.3) rotate(20.0)" font-size="14.3" font-weight="bold" font-style="italic" text-anchor="middle" fill="#333" stroke="#333" stroke-width="2.2" stroke-linejoin="round" opacity="0.45" dy="0.35em">GO 5</text>
<text transform="translate(305.0,1597.0) rotate(20.0)" font-size="14.3" font-weight="bold" font-style="italic" text-anchor="middle" fill="#fff" stroke="#2a2a2a" stroke-width="2.0" stroke-linejoin="round" paint-order="stroke" dy="0.35em">GO 5</text>
<text transform="translate(319.5,1571.3) rotate(31.0)" font-size="14.3" font-weight="bold" font-style="italic" text-anchor="middle" fill="#333" stroke="#333" stroke-width="2.2" stroke-linejoin="round" opacity="0.45" dy="0.35em">GO 6</text>
<text transform="translate(318.5,1570.0) rotate(31.0)" font-size="14.3" font-weight="bold" font-style="italic" text-anchor="middle" fill="#fff" stroke="#2a2a2a" stroke-width="2.0" stroke-linejoin="round" paint-order="stroke" dy="0.35em">GO 6</text>
<text transform="translate(167.5,1726.2) rotate(-19.0)" font-size="20.6" font-weight="bold" text-anchor="middle" fill="#111" dy="0.35em">membrane</text>
<text transform="translate(179.1,1749.0) rotate(-19.0)" font-size="20.6" font-weight="bold" text-anchor="middle" fill="#111" dy="0.35em">potential</text>
<text transform="translate(151.3,1575.5) rotate(5.0)" font-size="20.6" font-weight="bold" text-anchor="middle" fill="#111" dy="0.35em">developmental</text>
<text transform="translate(151.3,1601.7) rotate(5.0)" font-size="20.6" font-weight="bold" text-anchor="middle" fill="#111" dy="0.35em">process</text>
<text transform="translate(200.2,1498.7) rotate(31.6)" font-size="20.6" font-weight="bold" text-anchor="middle" fill="#111" dy="0.35em">cell adhesion</text>
<text transform="translate(248.5,1455.0) rotate(40.0)" font-size="20.6" font-weight="bold" text-anchor="middle" fill="#111" dy="0.35em">biological</text>
<text transform="translate(232.0,1476.0) rotate(39.0)" font-size="20.6" font-weight="bold" text-anchor="middle" fill="#111" dy="0.35em">adhesion</text>
<text transform="translate(365.7,1386.1) rotate(72.0)" font-size="20.6" font-weight="bold" text-anchor="middle" fill="#111" dy="0.35em">signaling</text>
<text transform="translate(407.7,1350.9) rotate(80.0)" font-size="20.6" font-weight="bold" text-anchor="middle" fill="#111" dy="0.35em">communication</text>
<text transform="translate(433.3,1343.5) rotate(80.0)" font-size="20.6" font-weight="bold" text-anchor="middle" fill="#111" dy="0.35em">cell</text>
<text transform="translate(498.2,1348.9) rotate(-82.0)" font-size="14.5" text-anchor="middle" fill="#111" dy="0.35em">system development</text>
<text transform="translate(573.0,1376.5) rotate(-65.9)" font-size="14.5" text-anchor="middle" fill="#111" dy="0.35em">axon development</text>
<text transform="translate(652.2,1418.6) rotate(-35.4)" font-size="14.5" text-anchor="middle" fill="#111" dy="0.35em">synapse organization</text>
<text transform="translate(716.0,1478.8) rotate(-5.8)" font-size="14.5" text-anchor="middle" fill="#111" dy="0.35em">cell projection organization</text>
<text transform="translate(741.2,1573.2) rotate(-17.7)" font-size="14.5" text-anchor="middle" fill="#111" dy="0.35em">cell recognition</text>
<text transform="translate(780.2,1685.5) rotate(9.4)" font-size="14.5" text-anchor="middle" fill="#111" dy="0.35em">regulation of</text>
<text transform="translate(779.6,1704.3) rotate(9.4)" font-size="14.5" text-anchor="middle" fill="#111" dy="0.35em">developmental process</text>
<text transform="translate(787.6,1733.9) rotate(13.4)" font-size="14.5" text-anchor="middle" fill="#111" dy="0.35em">sensory organ development</text>
<text transform="translate(753.5,1749.0) rotate(16.7)" font-size="14.5" text-anchor="middle" fill="#111" dy="0.35em">synapse assembly</text>
<text transform="translate(718.2,1811.5) rotate(10.8)" font-size="14.5" text-anchor="middle" fill="#111" dy="0.35em">sensory perception</text>
<text transform="translate(706.0,1838.5) rotate(13.6)" font-size="14.5" text-anchor="middle" fill="#111" dy="0.35em">cell fate specification</text>
<text transform="translate(668.9,1884.9) rotate(46.0)" font-size="14.5" text-anchor="middle" fill="#111" dy="0.35em">brain development</text>
<text transform="translate(182.8,1817.0) rotate(-30.5)" font-size="14.5" text-anchor="middle" fill="#111" dy="0.35em">modulation of</text>
<text transform="translate(192.5,1832.5) rotate(-30.0)" font-size="14.5" text-anchor="middle" fill="#111" dy="0.35em">synaptic transmission</text>
<text transform="translate(219.5,1852.0) rotate(-40.0)" font-size="14.5" text-anchor="middle" fill="#111" dy="0.35em">G-protein coupled</text>
<text transform="translate(232.8,1864.7) rotate(-40.0)" font-size="14.5" text-anchor="middle" fill="#111" dy="0.35em">receptor signaling</text>
<text transform="translate(250.0,1889.4) rotate(-46.2)" font-size="14.5" text-anchor="middle" fill="#111" dy="0.35em">signal transduction</text>
<text transform="translate(406.9,1919.3) rotate(-82.0)" font-size="14.5" text-anchor="middle" fill="#111" dy="0.35em">taxis</text>
<text transform="translate(67.3,1616.9) rotate(-90)" font-size="45.4" font-weight="bold" text-anchor="middle" fill="#0a0a0a" stroke="#0a0a0a" stroke-width="0.7" textLength="398" lengthAdjust="spacingAndGlyphs">GO Biological (P50)</text>
<path d="M453.7 1981.7A269.5 269.5 0 0 1 712.4 2175.6L679.9 2185.0A235.7 235.7 0 0 0 453.7 2015.5z" fill="#a4c44c" stroke="#fff" stroke-width="1.6" stroke-linejoin="round"/>
<path d="M712.4 2175.6A269.5 269.5 0 0 1 687.1 2385.9L657.8 2369.0A235.7 235.7 0 0 0 679.9 2185.0z" fill="#b6d172" stroke="#fff" stroke-width="1.6" stroke-linejoin="round"/>
<path d="M687.1 2385.9A269.5 269.5 0 0 1 220.3 2385.9L249.6 2369.0A235.7 235.7 0 0 0 657.8 2369.0z" fill="#983208" stroke="#fff" stroke-width="1.6" stroke-linejoin="round"/>
<path d="M220.3 2385.9A269.5 269.5 0 0 1 453.7 1981.7L453.7 2015.5A235.7 235.7 0 0 0 249.6 2369.0z" fill="#14c0a8" stroke="#fff" stroke-width="1.6" stroke-linejoin="round"/>
<path d="M453.7 2251.2L453.7 2015.5A235.7 235.7 0 0 1 657.8 2369.0z" fill="#a4c44c" stroke="#fff" stroke-width="1.8" stroke-linejoin="round"/>
<path d="M453.7 2251.2L657.8 2369.0A235.7 235.7 0 0 1 249.6 2369.0z" fill="#983208" stroke="#fff" stroke-width="1.8" stroke-linejoin="round"/>
<path d="M453.7 2251.2L249.6 2369.0A235.7 235.7 0 0 1 453.7 2015.5z" fill="#14c0a8" stroke="#fff" stroke-width="1.8" stroke-linejoin="round"/>
<circle cx="453.7" cy="2251.2" r="235.7" fill="none" stroke="#fff" stroke-width="1.8" opacity="0.92"/>
<text transform="translate(570.7,2205.9) rotate(4.0)" font-size="23.5" font-weight="bold" text-anchor="middle" fill="#f4f8e8" dy="0.35em">receptor binding</text>
<text transform="translate(326.2,2193.5) rotate(1.3)" font-size="23.5" font-weight="bold" text-anchor="middle" fill="#e8fbf8" dy="0.35em">molecular transducer</text>
<text transform="translate(327.5,2220.5) rotate(1.3)" font-size="23.5" font-weight="bold" text-anchor="middle" fill="#e8fbf8" dy="0.35em">activity</text>
<text transform="translate(460.4,2369.3) rotate(1.0)" font-size="23.5" font-weight="bold" text-anchor="middle" fill="#fbeee6" dy="0.35em">signaling receptor activity</text>
<text transform="translate(618.6,2152.1) rotate(-30.0)" font-size="16.5" font-weight="bold" font-style="italic" text-anchor="middle" fill="#333" stroke="#333" stroke-width="2.2" stroke-linejoin="round" opacity="0.45" dy="0.35em">GO 1</text>
<text transform="translate(617.6,2150.8) rotate(-30.0)" font-size="16.5" font-weight="bold" font-style="italic" text-anchor="middle" fill="#fff" stroke="#2a2a2a" stroke-width="2.0" stroke-linejoin="round" paint-order="stroke" dy="0.35em">GO 1</text>
<text transform="translate(444.3,2436.1) rotate(-90.0)" font-size="16.5" font-weight="bold" font-style="italic" text-anchor="middle" fill="#333" stroke="#333" stroke-width="2.2" stroke-linejoin="round" opacity="0.45" dy="0.35em">GO 2</text>
<text transform="translate(443.3,2434.8) rotate(-90.0)" font-size="16.5" font-weight="bold" font-style="italic" text-anchor="middle" fill="#fff" stroke="#2a2a2a" stroke-width="2.0" stroke-linejoin="round" paint-order="stroke" dy="0.35em">GO 2</text>
<text transform="translate(293.4,2152.6) rotate(30.0)" font-size="16.5" font-weight="bold" font-style="italic" text-anchor="middle" fill="#333" stroke="#333" stroke-width="2.2" stroke-linejoin="round" opacity="0.45" dy="0.35em">GO 3</text>
<text transform="translate(292.4,2151.3) rotate(30.0)" font-size="16.5" font-weight="bold" font-style="italic" text-anchor="middle" fill="#fff" stroke="#2a2a2a" stroke-width="2.0" stroke-linejoin="round" paint-order="stroke" dy="0.35em">GO 3</text>
<text transform="translate(647.7,2034) rotate(36.9)" font-size="15.8" text-anchor="middle" fill="#111" dy="0.35em">Wnt-protein binding</text>
<text transform="translate(67.7,2252.6) rotate(-90)" font-size="45.6" font-weight="bold" text-anchor="middle" fill="#0a0a0a" stroke="#0a0a0a" stroke-width="0.7" textLength="395.4" lengthAdjust="spacingAndGlyphs">GO Molecular (P50)</text>
<text x="1417.5" y="1318.7" font-size="36.8" font-weight="bold" text-anchor="middle" fill="#0a0a0a">Dm3 Connections</text>
<text x="1418.0" y="1853.9" font-size="31" font-weight="bold" text-anchor="middle" fill="#0a0a0a">Postsynaptic partner</text>
<text transform="translate(1022.3,1554.0) rotate(-90.0)" font-size="31.4" font-weight="bold" text-anchor="middle" fill="#0a0a0a">Normalized output (%)</text>
<rect x="1094.0" y="1771.8" width="10" height="3.2" fill="#111"/>
<text x="1090.8" y="1785.0" font-size="32" text-anchor="end" fill="#111">0.0</text>
<rect x="1094.0" y="1631.4" width="10" height="3.2" fill="#111"/>
<text x="1090.8" y="1644.6" font-size="32" text-anchor="end" fill="#111">0.2</text>
<rect x="1094.0" y="1491.0" width="10" height="3.2" fill="#111"/>
<text x="1090.8" y="1504.2" font-size="32" text-anchor="end" fill="#111">0.4</text>
<rect x="1094.0" y="1350.6" width="10" height="3.2" fill="#111"/>
<text x="1090.8" y="1363.8" font-size="32" text-anchor="end" fill="#111">0.6</text>
<rect x="1148.0" y="1773.4" width="3.2" height="8.4" fill="#0a0a0a"/>
<text x="1149.6" y="1811.6" font-size="32" text-anchor="middle" fill="#111">Dm3x</text>
<rect x="1255.4" y="1773.4" width="3.2" height="8.4" fill="#0a0a0a"/>
<text x="1257.0" y="1811.6" font-size="32" text-anchor="middle" fill="#111">Dm3y</text>
<rect x="1362.4" y="1773.4" width="3.2" height="8.4" fill="#0a0a0a"/>
<text x="1364.0" y="1811.6" font-size="32" text-anchor="middle" fill="#111">Dm20</text>
<rect x="1469.4" y="1773.4" width="3.2" height="8.4" fill="#0a0a0a"/>
<text x="1471.0" y="1811.6" font-size="32" text-anchor="middle" fill="#111">T2a</text>
<rect x="1576.9" y="1773.4" width="3.2" height="8.4" fill="#0a0a0a"/>
<text x="1578.5" y="1811.6" font-size="32" text-anchor="middle" fill="#111">Tm28</text>
<rect x="1683.7" y="1773.4" width="3.2" height="8.4" fill="#0a0a0a"/>
<text x="1685.3" y="1811.6" font-size="32" text-anchor="middle" fill="#111">Tm5a</text>
<rect x="1158.1" y="1634.5" width="23.6" height="138.9" fill="#fbc6c8" stroke="#ee1111" stroke-width="3.5"/>
<path d="M1169.9 1600.0V1663.9M1163.6 1600.0h12.6M1163.6 1663.9h12.6" stroke="#ee1111" stroke-width="1.5" fill="none"/>
<rect x="1224.9" y="1590.2" width="23.6" height="183.2" fill="#c9c9f7" stroke="#1212dc" stroke-width="3.5"/>
<path d="M1236.7 1526.3V1650.1M1230.4 1526.3h12.6M1230.4 1650.1h12.6" stroke="#1212dc" stroke-width="1.5" fill="none"/>
<path d="M1277.3 1768.5V1759.4M1271.3 1759.4h12" stroke="#ee1111" stroke-width="1.4" fill="none"/>
<rect x="1331.9" y="1755.1" width="23.6" height="18.3" fill="#c9c9f7" stroke="#1212dc" stroke-width="3.5"/>
<path d="M1343.7 1738.3V1768.5M1337.4 1738.3h12.6M1337.4 1768.5h12.6" stroke="#1212dc" stroke-width="1.5" fill="none"/>
<rect x="1438.9" y="1760.4" width="23.6" height="13.0" fill="#c9c9f7" stroke="#1212dc" stroke-width="3.5"/>
<path d="M1450.7 1745.3V1771.3M1444.4 1745.3h12.6M1444.4 1771.3h12.6" stroke="#1212dc" stroke-width="1.5" fill="none"/>
<rect x="1546.4" y="1689.5" width="23.6" height="83.9" fill="#c9c9f7" stroke="#1212dc" stroke-width="3.5"/>
<path d="M1558.2 1674.1V1701.8M1551.9 1674.1h12.6M1551.9 1701.8h12.6" stroke="#1212dc" stroke-width="1.5" fill="none"/>
<rect x="1587.0" y="1570.2" width="23.6" height="203.2" fill="#fbc6c8" stroke="#ee1111" stroke-width="3.5"/>
<path d="M1598.8 1526.3V1609.8M1592.5 1526.3h12.6M1592.5 1609.8h12.6" stroke="#ee1111" stroke-width="1.5" fill="none"/>
<rect x="1653.2" y="1752.7" width="23.6" height="20.7" fill="#c9c9f7" stroke="#1212dc" stroke-width="3.5"/>
<path d="M1665.0 1734.8V1767.1M1658.7 1734.8h12.6M1658.7 1767.1h12.6" stroke="#1212dc" stroke-width="1.5" fill="none"/>
<rect x="1102.2" y="1350.9" width="3.4" height="424.2" fill="#0a0a0a"/>
<rect x="1102.2" y="1771.7" width="633.3" height="3.4" fill="#0a0a0a"/>
<rect x="1263.7" y="1764.8" width="27.2" height="12.3" rx="1.5" fill="#ee1111"/>
<rect x="1370.7" y="1769.7" width="27.2" height="7.4" rx="1.5" fill="#ee1111"/>
<rect x="1477.7" y="1769.7" width="27.2" height="7.4" rx="1.5" fill="#ee1111"/>
<rect x="1692.0" y="1769.7" width="27.2" height="7.4" rx="1.5" fill="#ee1111"/>
<circle cx="1121.6" cy="1773.4" r="4.2" fill="#1212dc"/>
<circle cx="1126.2" cy="1773.4" r="4.2" fill="#1212dc"/>
<circle cx="1130.2" cy="1773.4" r="4.2" fill="#1212dc"/>
<circle cx="1134.7" cy="1773.4" r="4.2" fill="#1212dc"/>
<circle cx="1139.3" cy="1773.4" r="4.2" fill="#1212dc"/>
<rect x="1166.6" y="1488.9" width="8.2" height="8.2" fill="#ee1111"/>
<rect x="1166.6" y="1545.4" width="8.2" height="8.2" fill="#ee1111"/>
<rect x="1166.6" y="1625.4" width="8.2" height="8.2" fill="#ee1111"/>
<rect x="1166.0" y="1643.6" width="8.2" height="8.2" fill="#ee1111"/>
<rect x="1166.6" y="1672.8" width="8.2" height="8.2" fill="#ee1111"/>
<rect x="1166.6" y="1702.5" width="8.2" height="8.2" fill="#ee1111"/>
<rect x="1166.6" y="1718.5" width="8.2" height="8.2" fill="#ee1111"/>
<circle cx="1237.0" cy="1386.8" r="4.2" fill="#1212dc"/>
<circle cx="1237.0" cy="1530.7" r="4.2" fill="#1212dc"/>
<circle cx="1237.0" cy="1592.3" r="4.2" fill="#1212dc"/>
<circle cx="1237.0" cy="1707.1" r="4.2" fill="#1212dc"/>
<circle cx="1237.0" cy="1724.8" r="4.2" fill="#1212dc"/>
<rect x="1270.5" y="1751.6" width="8.2" height="8.2" fill="#ee1111"/>
<rect x="1276.3" y="1755.6" width="8.2" height="8.2" fill="#ee1111"/>
<circle cx="1344.3" cy="1695.7" r="4.2" fill="#1212dc"/>
<circle cx="1344.3" cy="1748.3" r="4.2" fill="#1212dc"/>
<circle cx="1335.8" cy="1773.4" r="4.2" fill="#1212dc"/>
<circle cx="1344.3" cy="1773.4" r="4.2" fill="#1212dc"/>
<circle cx="1352.3" cy="1773.4" r="4.2" fill="#1212dc"/>
<circle cx="1451.1" cy="1721.4" r="4.2" fill="#1212dc"/>
<circle cx="1451.1" cy="1746.5" r="4.2" fill="#1212dc"/>
<circle cx="1442.5" cy="1773.4" r="4.2" fill="#1212dc"/>
<circle cx="1451.1" cy="1773.4" r="4.2" fill="#1212dc"/>
<circle cx="1459.7" cy="1773.4" r="4.2" fill="#1212dc"/>
<circle cx="1558.5" cy="1639.7" r="4.2" fill="#1212dc"/>
<circle cx="1558.5" cy="1680.3" r="4.2" fill="#1212dc"/>
<circle cx="1565.9" cy="1698.0" r="4.2" fill="#1212dc"/>
<circle cx="1551.6" cy="1691.1" r="4.2" fill="#1212dc"/>
<circle cx="1558.5" cy="1721.4" r="4.2" fill="#1212dc"/>
<rect x="1594.3" y="1387.2" width="8.2" height="8.2" fill="#ee1111"/>
<rect x="1604.1" y="1494.6" width="8.2" height="8.2" fill="#ee1111"/>
<rect x="1585.2" y="1502.0" width="8.2" height="8.2" fill="#ee1111"/>
<rect x="1594.3" y="1564.3" width="8.2" height="8.2" fill="#ee1111"/>
<rect x="1594.3" y="1643.1" width="8.2" height="8.2" fill="#ee1111"/>
<rect x="1594.3" y="1657.3" width="8.2" height="8.2" fill="#ee1111"/>
<rect x="1594.3" y="1696.8" width="8.2" height="8.2" fill="#ee1111"/>
<circle cx="1665.8" cy="1692.3" r="4.2" fill="#1212dc"/>
<circle cx="1665.8" cy="1739.7" r="4.2" fill="#1212dc"/>
<circle cx="1657.3" cy="1773.4" r="4.2" fill="#1212dc"/>
<circle cx="1665.8" cy="1773.4" r="4.2" fill="#1212dc"/>
<circle cx="1674.4" cy="1773.4" r="4.2" fill="#1212dc"/>
<path d="M1129.0 1574.0v17.2M1170.7 1574.0v17.2M1129.0 1582.6H1170.7" stroke="#111" stroke-width="3.2" fill="none"/>
<text x="1150.7" y="1583.8" font-size="29" font-weight="bold" text-anchor="middle" fill="#111" letter-spacing="1.6">**</text>
<path d="M1235.2 1499.2v17.2M1276.9 1499.2v17.2M1235.2 1507.8H1276.9" stroke="#111" stroke-width="3.2" fill="none"/>
<text x="1256.9" y="1509.0" font-size="29" font-weight="bold" text-anchor="middle" fill="#111" letter-spacing="1.6">**</text>
<path d="M1558.5 1471.2v17.2M1600.2 1471.2v17.2M1558.5 1479.8H1600.2" stroke="#111" stroke-width="3.2" fill="none"/>
<text x="1580.1" y="1481.0" font-size="29" font-weight="bold" text-anchor="middle" fill="#111" letter-spacing="1.6">*</text>
<circle cx="1683.5" cy="1393" r="4.3" fill="#1212dc"/>
<rect x="1679.2" y="1445.8" width="8.6" height="8.6" fill="#ee1111"/>
<text x="1708.0" y="1404.0" font-size="30.8" font-weight="bold" fill="#111">Dm3x</text>
<text x="1708.0" y="1461.0" font-size="30.8" font-weight="bold" fill="#111">Dm3y</text>
<path d="M936.2 1925.3V2470.3H1833" stroke="#222" stroke-width="1.4" fill="none"/>
<rect x="936.2" y="2469.7" width="5" height="1.2" fill="#222"/>
<text x="921.2" y="2475.1" font-size="13.5" text-anchor="end" fill="#595959">0</text>
<rect x="936.2" y="2401.6" width="5" height="1.2" fill="#222"/>
<text x="921.2" y="2407.0" font-size="13.5" text-anchor="end" fill="#595959">5</text>
<rect x="936.2" y="2333.5" width="5" height="1.2" fill="#222"/>
<text x="921.2" y="2338.9" font-size="13.5" text-anchor="end" fill="#595959">10</text>
<rect x="936.2" y="2265.3" width="5" height="1.2" fill="#222"/>
<text x="921.2" y="2270.7" font-size="13.5" text-anchor="end" fill="#595959">15</text>
<rect x="936.2" y="2197.2" width="5" height="1.2" fill="#222"/>
<text x="921.2" y="2202.6" font-size="13.5" text-anchor="end" fill="#595959">20</text>
<rect x="936.2" y="2129.1" width="5" height="1.2" fill="#222"/>
<text x="921.2" y="2134.5" font-size="13.5" text-anchor="end" fill="#595959">25</text>
<rect x="936.2" y="2061.0" width="5" height="1.2" fill="#222"/>
<text x="921.2" y="2066.4" font-size="13.5" text-anchor="end" fill="#595959">30</text>
<rect x="936.2" y="1992.8" width="5" height="1.2" fill="#222"/>
<text x="921.2" y="1998.2" font-size="13.5" text-anchor="end" fill="#595959">35</text>
<rect x="936.2" y="1924.7" width="5" height="1.2" fill="#222"/>
<text x="921.2" y="1930.1" font-size="13.5" text-anchor="end" fill="#595959">40</text>
<text x="1010.5" y="2507.0" font-size="23.2" font-weight="bold" text-anchor="middle" fill="#111">P15</text>
<text x="1160.0" y="2507.0" font-size="23.2" font-weight="bold" text-anchor="middle" fill="#111">P30</text>
<text x="1309.5" y="2507.0" font-size="23.2" font-weight="bold" text-anchor="middle" fill="#111">P40</text>
<text x="1459.0" y="2507.0" font-size="23.2" font-weight="bold" text-anchor="middle" fill="#111">P50</text>
<text x="1608.5" y="2507.0" font-size="23.2" font-weight="bold" text-anchor="middle" fill="#111">P70</text>
<text x="1758.0" y="2507.0" font-size="23.2" font-weight="bold" text-anchor="middle" fill="#111">Adult</text>
<path d="M1010.5 2347.7L1160.0 2320.4L1309.5 2265.9L1459.0 2156.9L1608.5 2347.7L1758.0 2456.7" stroke="#70ad47" stroke-width="3.4" fill="none" stroke-linejoin="round" stroke-linecap="round"/>
<path d="M1010.5 2116.1L1160.0 2116.1L1309.5 1966.2L1459.0 1952.6L1608.5 2429.4L1758.0 2429.4" stroke="#5b9bd5" stroke-width="3.4" fill="none" stroke-linejoin="round" stroke-linecap="round"/>
<path d="M1010.5 2306.8L1160.0 2320.4L1309.5 2225.1L1459.0 2225.1L1608.5 2347.7L1758.0 2402.2" stroke="#ffc000" stroke-width="3.4" fill="none" stroke-linejoin="round" stroke-linecap="round"/>
<path d="M1578.4 1945.3H1615.1" stroke="#70ad47" stroke-width="3.4"/>
<text x="1616.4" y="1958.2" font-size="41.4" font-weight="bold">T4a vs. b</text>
<path d="M1578.4 2001.0H1615.1" stroke="#5b9bd5" stroke-width="3.4"/>
<text x="1616.4" y="2013.9" font-size="41.4" font-weight="bold">Dm3a vs. b</text>
<path d="M1578.4 2055.4H1615.1" stroke="#ffc000" stroke-width="3.4"/>
<text x="1616.4" y="2068.3" font-size="41.4" font-weight="bold">Tm9v vs. d</text>
<text transform="translate(850.2,2197.7) rotate(-90)" font-size="33" font-weight="bold" text-anchor="middle" fill="#111" stroke="#111" stroke-width="0.9" textLength="426" lengthAdjust="spacingAndGlyphs">Differentially expressed genes</text>
<text transform="translate(891.8,2197.7) rotate(-90)" font-size="33" font-weight="bold" text-anchor="middle" fill="#111" stroke="#111" stroke-width="0.9" textLength="118" lengthAdjust="spacingAndGlyphs">(p&lt;0.01)</text>
</svg>
</body></html>
